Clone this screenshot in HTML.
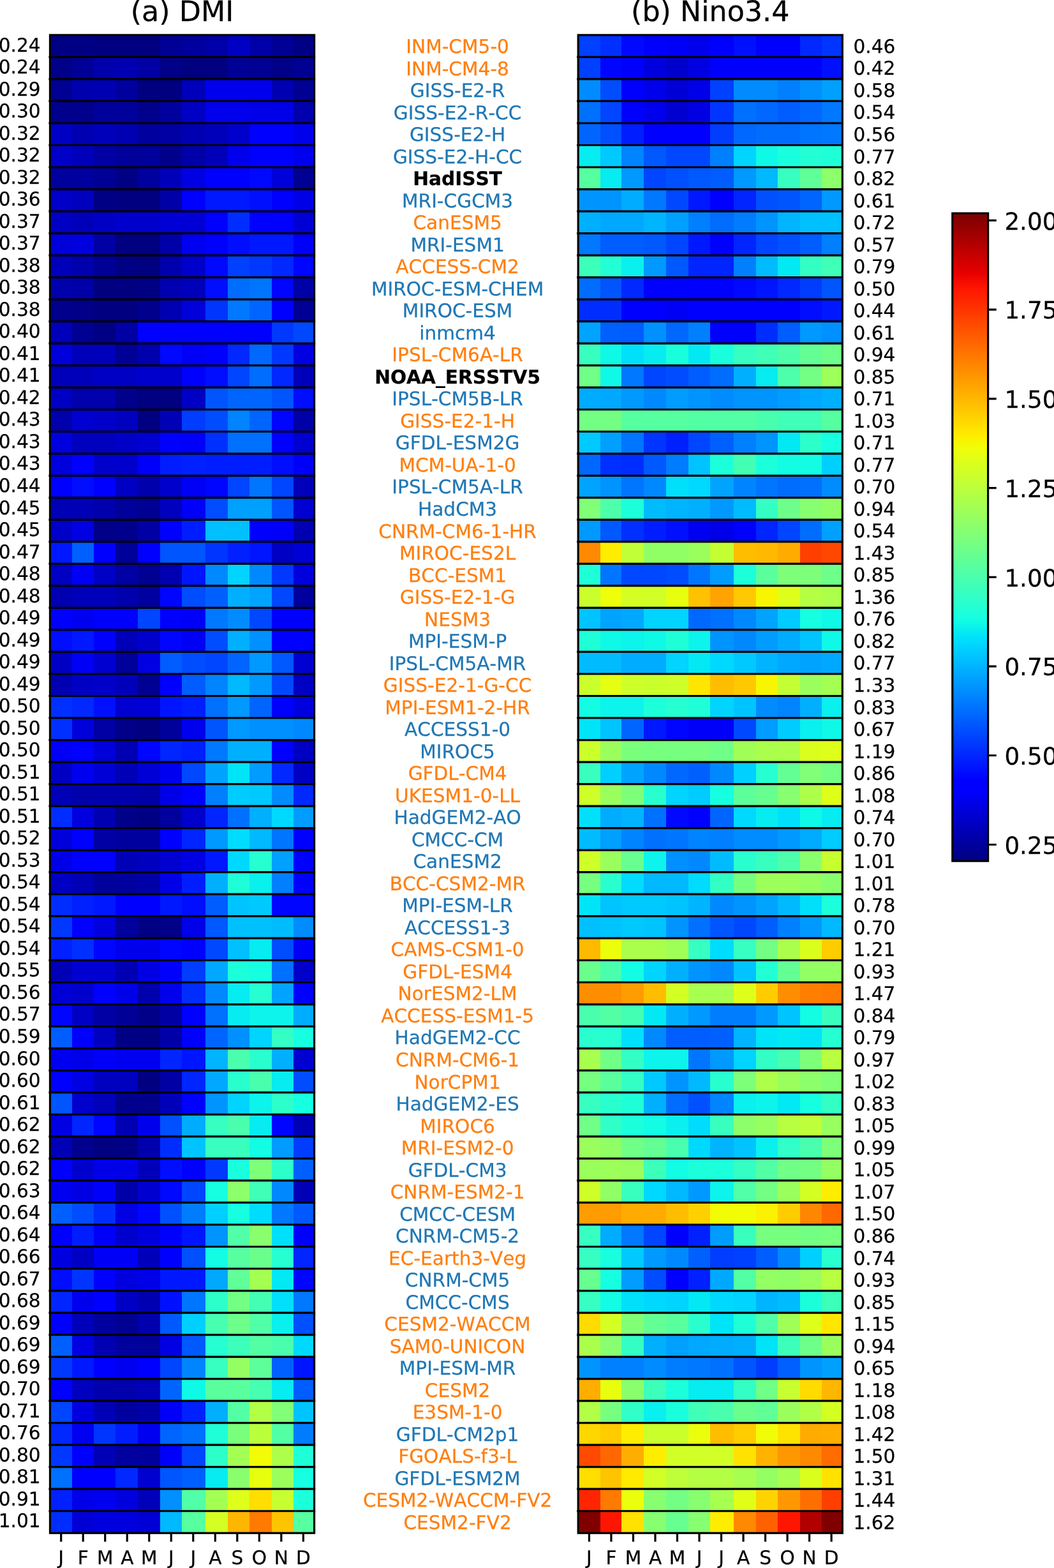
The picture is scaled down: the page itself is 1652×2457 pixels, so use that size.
<!DOCTYPE html>
<html lang="en"><head><meta charset="utf-8"><title>Seasonal standard deviation of DMI and Nino3.4</title>
<style>
html,body{margin:0;padding:0;background:#fff;}
body{width:1652px;height:2457px;overflow:hidden;}
svg{display:block;}
text{font-family:"DejaVu Sans","Liberation Sans",sans-serif;fill:#000;stroke:#000;stroke-width:0.25px;text-rendering:geometricPrecision;font-kerning:none;}
.t{font-size:29.6px;}
.l{text-anchor:end;}.r{text-anchor:start;}.m{text-anchor:middle;}
.o{fill:#ff7f0e;stroke:#ff7f0e;}.b{fill:#1f77b4;stroke:#1f77b4;}.k{fill:#000;font-weight:bold;}
.ti{font-size:44.4px;text-anchor:middle;}
.cb{font-size:37.3px;}
.ln{stroke:#000;stroke-width:3.2;fill:none;}
.sp{stroke:#000;stroke-width:3.2;fill:none;stroke-linejoin:miter;}
</style></head><body>
<svg width="1652" height="2457" viewBox="0 0 1652 2457" role="img" aria-label="Heatmaps of monthly standard deviation of DMI and Nino3.4 for 68 models and observations">
<rect width="1652" height="2457" fill="#fff"/>
<defs><linearGradient id="jet" x1="0" y1="1" x2="0" y2="0">
<stop offset="0.0000" stop-color="#000080"/>
<stop offset="0.0078" stop-color="#000089"/>
<stop offset="0.0156" stop-color="#000092"/>
<stop offset="0.0234" stop-color="#00009b"/>
<stop offset="0.0312" stop-color="#0000a4"/>
<stop offset="0.0391" stop-color="#0000ad"/>
<stop offset="0.0469" stop-color="#0000b6"/>
<stop offset="0.0547" stop-color="#0000bf"/>
<stop offset="0.0625" stop-color="#0000c8"/>
<stop offset="0.0703" stop-color="#0000d1"/>
<stop offset="0.0781" stop-color="#0000da"/>
<stop offset="0.0859" stop-color="#0000e3"/>
<stop offset="0.0938" stop-color="#0000ed"/>
<stop offset="0.1016" stop-color="#0000f6"/>
<stop offset="0.1094" stop-color="#0000ff"/>
<stop offset="0.1172" stop-color="#0000ff"/>
<stop offset="0.1250" stop-color="#0000ff"/>
<stop offset="0.1328" stop-color="#0008ff"/>
<stop offset="0.1406" stop-color="#0010ff"/>
<stop offset="0.1484" stop-color="#0018ff"/>
<stop offset="0.1562" stop-color="#0020ff"/>
<stop offset="0.1641" stop-color="#0028ff"/>
<stop offset="0.1719" stop-color="#0030ff"/>
<stop offset="0.1797" stop-color="#0038ff"/>
<stop offset="0.1875" stop-color="#0040ff"/>
<stop offset="0.1953" stop-color="#0048ff"/>
<stop offset="0.2031" stop-color="#0050ff"/>
<stop offset="0.2109" stop-color="#0058ff"/>
<stop offset="0.2188" stop-color="#0060ff"/>
<stop offset="0.2266" stop-color="#0068ff"/>
<stop offset="0.2344" stop-color="#0070ff"/>
<stop offset="0.2422" stop-color="#0078ff"/>
<stop offset="0.2500" stop-color="#0080ff"/>
<stop offset="0.2578" stop-color="#0089ff"/>
<stop offset="0.2656" stop-color="#0090ff"/>
<stop offset="0.2734" stop-color="#0099ff"/>
<stop offset="0.2812" stop-color="#00a0ff"/>
<stop offset="0.2891" stop-color="#00a9ff"/>
<stop offset="0.2969" stop-color="#00b0ff"/>
<stop offset="0.3047" stop-color="#00b9ff"/>
<stop offset="0.3125" stop-color="#00c0ff"/>
<stop offset="0.3203" stop-color="#00c9ff"/>
<stop offset="0.3281" stop-color="#00d0ff"/>
<stop offset="0.3359" stop-color="#00d9ff"/>
<stop offset="0.3438" stop-color="#00e0fb"/>
<stop offset="0.3516" stop-color="#02e9f4"/>
<stop offset="0.3594" stop-color="#09f0ee"/>
<stop offset="0.3672" stop-color="#0ff9e7"/>
<stop offset="0.3750" stop-color="#16ffe1"/>
<stop offset="0.3828" stop-color="#1cffdb"/>
<stop offset="0.3906" stop-color="#23ffd4"/>
<stop offset="0.3984" stop-color="#29ffce"/>
<stop offset="0.4062" stop-color="#30ffc7"/>
<stop offset="0.4141" stop-color="#36ffc1"/>
<stop offset="0.4219" stop-color="#3cffba"/>
<stop offset="0.4297" stop-color="#43ffb4"/>
<stop offset="0.4375" stop-color="#49ffad"/>
<stop offset="0.4453" stop-color="#50ffa7"/>
<stop offset="0.4531" stop-color="#56ffa0"/>
<stop offset="0.4609" stop-color="#5dff9a"/>
<stop offset="0.4688" stop-color="#63ff94"/>
<stop offset="0.4766" stop-color="#6aff8d"/>
<stop offset="0.4844" stop-color="#70ff87"/>
<stop offset="0.4922" stop-color="#77ff80"/>
<stop offset="0.5000" stop-color="#7dff7a"/>
<stop offset="0.5078" stop-color="#83ff73"/>
<stop offset="0.5156" stop-color="#8aff6d"/>
<stop offset="0.5234" stop-color="#90ff66"/>
<stop offset="0.5312" stop-color="#97ff60"/>
<stop offset="0.5391" stop-color="#9dff5a"/>
<stop offset="0.5469" stop-color="#a4ff53"/>
<stop offset="0.5547" stop-color="#aaff4d"/>
<stop offset="0.5625" stop-color="#b1ff46"/>
<stop offset="0.5703" stop-color="#b7ff40"/>
<stop offset="0.5781" stop-color="#beff39"/>
<stop offset="0.5859" stop-color="#c4ff33"/>
<stop offset="0.5938" stop-color="#caff2c"/>
<stop offset="0.6016" stop-color="#d1ff26"/>
<stop offset="0.6094" stop-color="#d7ff1f"/>
<stop offset="0.6172" stop-color="#deff19"/>
<stop offset="0.6250" stop-color="#e4ff13"/>
<stop offset="0.6328" stop-color="#ebff0c"/>
<stop offset="0.6406" stop-color="#f1fc06"/>
<stop offset="0.6484" stop-color="#f8f500"/>
<stop offset="0.6562" stop-color="#feed00"/>
<stop offset="0.6641" stop-color="#ffe600"/>
<stop offset="0.6719" stop-color="#ffde00"/>
<stop offset="0.6797" stop-color="#ffd700"/>
<stop offset="0.6875" stop-color="#ffd000"/>
<stop offset="0.6953" stop-color="#ffc800"/>
<stop offset="0.7031" stop-color="#ffc100"/>
<stop offset="0.7109" stop-color="#ffb900"/>
<stop offset="0.7188" stop-color="#ffb200"/>
<stop offset="0.7266" stop-color="#ffab00"/>
<stop offset="0.7344" stop-color="#ffa300"/>
<stop offset="0.7422" stop-color="#ff9c00"/>
<stop offset="0.7500" stop-color="#ff9400"/>
<stop offset="0.7578" stop-color="#ff8d00"/>
<stop offset="0.7656" stop-color="#ff8600"/>
<stop offset="0.7734" stop-color="#ff7e00"/>
<stop offset="0.7812" stop-color="#ff7700"/>
<stop offset="0.7891" stop-color="#ff6f00"/>
<stop offset="0.7969" stop-color="#ff6800"/>
<stop offset="0.8047" stop-color="#ff6000"/>
<stop offset="0.8125" stop-color="#ff5900"/>
<stop offset="0.8203" stop-color="#ff5200"/>
<stop offset="0.8281" stop-color="#ff4a00"/>
<stop offset="0.8359" stop-color="#ff4300"/>
<stop offset="0.8438" stop-color="#ff3b00"/>
<stop offset="0.8516" stop-color="#ff3400"/>
<stop offset="0.8594" stop-color="#ff2d00"/>
<stop offset="0.8672" stop-color="#ff2500"/>
<stop offset="0.8750" stop-color="#ff1e00"/>
<stop offset="0.8828" stop-color="#ff1600"/>
<stop offset="0.8906" stop-color="#fa0f00"/>
<stop offset="0.8984" stop-color="#f10800"/>
<stop offset="0.9062" stop-color="#e80000"/>
<stop offset="0.9141" stop-color="#df0000"/>
<stop offset="0.9219" stop-color="#d60000"/>
<stop offset="0.9297" stop-color="#cd0000"/>
<stop offset="0.9375" stop-color="#c40000"/>
<stop offset="0.9453" stop-color="#bb0000"/>
<stop offset="0.9531" stop-color="#b10000"/>
<stop offset="0.9609" stop-color="#a80000"/>
<stop offset="0.9688" stop-color="#9f0000"/>
<stop offset="0.9766" stop-color="#960000"/>
<stop offset="0.9844" stop-color="#8d0000"/>
<stop offset="0.9922" stop-color="#840000"/>
<stop offset="1.0000" stop-color="#800000"/>
</linearGradient></defs>
<g shape-rendering="crispEdges">
<rect x="78.45" y="54.9" width="35.09" height="35.12" fill="#000084"/>
<rect x="112.94" y="54.9" width="34.16" height="35.12" fill="#000084"/>
<rect x="146.5" y="54.9" width="34.95" height="35.12" fill="#000080"/>
<rect x="180.85" y="54.9" width="35.65" height="35.12" fill="#000080"/>
<rect x="215.9" y="54.9" width="35.7" height="35.12" fill="#000080"/>
<rect x="251" y="54.9" width="34.55" height="35.12" fill="#000096"/>
<rect x="284.95" y="54.9" width="37.6" height="35.12" fill="#00009f"/>
<rect x="321.95" y="54.9" width="35.55" height="35.12" fill="#0000a8"/>
<rect x="356.9" y="54.9" width="34.55" height="35.12" fill="#0000c4"/>
<rect x="390.85" y="54.9" width="35.65" height="35.12" fill="#0000a8"/>
<rect x="425.9" y="54.9" width="34.7" height="35.12" fill="#000096"/>
<rect x="460" y="54.9" width="32.63" height="35.12" fill="#000084"/>
<rect x="78.45" y="89.42" width="35.09" height="35.12" fill="#000089"/>
<rect x="112.94" y="89.42" width="34.16" height="35.12" fill="#000096"/>
<rect x="146.5" y="89.42" width="34.95" height="35.12" fill="#0000ad"/>
<rect x="180.85" y="89.42" width="35.65" height="35.12" fill="#0000b2"/>
<rect x="215.9" y="89.42" width="35.7" height="35.12" fill="#0000a4"/>
<rect x="251" y="89.42" width="34.55" height="35.12" fill="#000089"/>
<rect x="284.95" y="89.42" width="37.6" height="35.12" fill="#000080"/>
<rect x="321.95" y="89.42" width="35.55" height="35.12" fill="#000080"/>
<rect x="356.9" y="89.42" width="34.55" height="35.12" fill="#000096"/>
<rect x="390.85" y="89.42" width="35.65" height="35.12" fill="#000092"/>
<rect x="425.9" y="89.42" width="34.7" height="35.12" fill="#000089"/>
<rect x="460" y="89.42" width="32.63" height="35.12" fill="#000092"/>
<rect x="78.45" y="123.94" width="35.09" height="35.12" fill="#000092"/>
<rect x="112.94" y="123.94" width="34.16" height="35.12" fill="#0000ad"/>
<rect x="146.5" y="123.94" width="34.95" height="35.12" fill="#0000b2"/>
<rect x="180.85" y="123.94" width="35.65" height="35.12" fill="#00009f"/>
<rect x="215.9" y="123.94" width="35.7" height="35.12" fill="#000080"/>
<rect x="251" y="123.94" width="34.55" height="35.12" fill="#000080"/>
<rect x="284.95" y="123.94" width="37.6" height="35.12" fill="#0000bb"/>
<rect x="321.95" y="123.94" width="35.55" height="35.12" fill="#0000ed"/>
<rect x="356.9" y="123.94" width="34.55" height="35.12" fill="#0000ed"/>
<rect x="390.85" y="123.94" width="35.65" height="35.12" fill="#0000ed"/>
<rect x="425.9" y="123.94" width="34.7" height="35.12" fill="#0000b2"/>
<rect x="460" y="123.94" width="32.63" height="35.12" fill="#000092"/>
<rect x="78.45" y="158.46" width="35.09" height="35.12" fill="#00008d"/>
<rect x="112.94" y="158.46" width="34.16" height="35.12" fill="#00008d"/>
<rect x="146.5" y="158.46" width="34.95" height="35.12" fill="#00009b"/>
<rect x="180.85" y="158.46" width="35.65" height="35.12" fill="#00009b"/>
<rect x="215.9" y="158.46" width="35.7" height="35.12" fill="#00008d"/>
<rect x="251" y="158.46" width="34.55" height="35.12" fill="#00009f"/>
<rect x="284.95" y="158.46" width="37.6" height="35.12" fill="#0000c4"/>
<rect x="321.95" y="158.46" width="35.55" height="35.12" fill="#0000ed"/>
<rect x="356.9" y="158.46" width="34.55" height="35.12" fill="#0000ed"/>
<rect x="390.85" y="158.46" width="35.65" height="35.12" fill="#0000e8"/>
<rect x="425.9" y="158.46" width="34.7" height="35.12" fill="#0000e8"/>
<rect x="460" y="158.46" width="32.63" height="35.12" fill="#0000ad"/>
<rect x="78.45" y="192.98" width="35.09" height="35.12" fill="#0000c4"/>
<rect x="112.94" y="192.98" width="34.16" height="35.12" fill="#0000b2"/>
<rect x="146.5" y="192.98" width="34.95" height="35.12" fill="#0000bb"/>
<rect x="180.85" y="192.98" width="35.65" height="35.12" fill="#0000b2"/>
<rect x="215.9" y="192.98" width="35.7" height="35.12" fill="#00009f"/>
<rect x="251" y="192.98" width="34.55" height="35.12" fill="#0000a4"/>
<rect x="284.95" y="192.98" width="37.6" height="35.12" fill="#0000b2"/>
<rect x="321.95" y="192.98" width="35.55" height="35.12" fill="#0000bb"/>
<rect x="356.9" y="192.98" width="34.55" height="35.12" fill="#0000cd"/>
<rect x="390.85" y="192.98" width="35.65" height="35.12" fill="#0000ff"/>
<rect x="425.9" y="192.98" width="34.7" height="35.12" fill="#0000ff"/>
<rect x="460" y="192.98" width="32.63" height="35.12" fill="#0000ed"/>
<rect x="78.45" y="227.5" width="35.09" height="35.12" fill="#0000c8"/>
<rect x="112.94" y="227.5" width="34.16" height="35.12" fill="#0000bb"/>
<rect x="146.5" y="227.5" width="34.95" height="35.12" fill="#0000a4"/>
<rect x="180.85" y="227.5" width="35.65" height="35.12" fill="#00009b"/>
<rect x="215.9" y="227.5" width="35.7" height="35.12" fill="#00009b"/>
<rect x="251" y="227.5" width="34.55" height="35.12" fill="#00008d"/>
<rect x="284.95" y="227.5" width="37.6" height="35.12" fill="#0000a8"/>
<rect x="321.95" y="227.5" width="35.55" height="35.12" fill="#0000bb"/>
<rect x="356.9" y="227.5" width="34.55" height="35.12" fill="#0000ed"/>
<rect x="390.85" y="227.5" width="35.65" height="35.12" fill="#0000ff"/>
<rect x="425.9" y="227.5" width="34.7" height="35.12" fill="#0000ff"/>
<rect x="460" y="227.5" width="32.63" height="35.12" fill="#0000ed"/>
<rect x="78.45" y="262.02" width="35.09" height="35.12" fill="#00009f"/>
<rect x="112.94" y="262.02" width="34.16" height="35.12" fill="#00009f"/>
<rect x="146.5" y="262.02" width="34.95" height="35.12" fill="#000096"/>
<rect x="180.85" y="262.02" width="35.65" height="35.12" fill="#000084"/>
<rect x="215.9" y="262.02" width="35.7" height="35.12" fill="#00009f"/>
<rect x="251" y="262.02" width="34.55" height="35.12" fill="#0000bb"/>
<rect x="284.95" y="262.02" width="37.6" height="35.12" fill="#0000e3"/>
<rect x="321.95" y="262.02" width="35.55" height="35.12" fill="#0000ff"/>
<rect x="356.9" y="262.02" width="34.55" height="35.12" fill="#0000ff"/>
<rect x="390.85" y="262.02" width="35.65" height="35.12" fill="#0008ff"/>
<rect x="425.9" y="262.02" width="34.7" height="35.12" fill="#0000da"/>
<rect x="460" y="262.02" width="32.63" height="35.12" fill="#000092"/>
<rect x="78.45" y="296.54" width="35.09" height="35.12" fill="#0000c8"/>
<rect x="112.94" y="296.54" width="34.16" height="35.12" fill="#0000bf"/>
<rect x="146.5" y="296.54" width="34.95" height="35.12" fill="#000084"/>
<rect x="180.85" y="296.54" width="35.65" height="35.12" fill="#000080"/>
<rect x="215.9" y="296.54" width="35.7" height="35.12" fill="#000080"/>
<rect x="251" y="296.54" width="34.55" height="35.12" fill="#0000a8"/>
<rect x="284.95" y="296.54" width="37.6" height="35.12" fill="#0000ff"/>
<rect x="321.95" y="296.54" width="35.55" height="35.12" fill="#0018ff"/>
<rect x="356.9" y="296.54" width="34.55" height="35.12" fill="#0018ff"/>
<rect x="390.85" y="296.54" width="35.65" height="35.12" fill="#0010ff"/>
<rect x="425.9" y="296.54" width="34.7" height="35.12" fill="#0000ff"/>
<rect x="460" y="296.54" width="32.63" height="35.12" fill="#0000e8"/>
<rect x="78.45" y="331.06" width="35.09" height="35.12" fill="#0000c4"/>
<rect x="112.94" y="331.06" width="34.16" height="35.12" fill="#0000bb"/>
<rect x="146.5" y="331.06" width="34.95" height="35.12" fill="#0000c4"/>
<rect x="180.85" y="331.06" width="35.65" height="35.12" fill="#0000cd"/>
<rect x="215.9" y="331.06" width="35.7" height="35.12" fill="#0000cd"/>
<rect x="251" y="331.06" width="34.55" height="35.12" fill="#0000d6"/>
<rect x="284.95" y="331.06" width="37.6" height="35.12" fill="#0000d6"/>
<rect x="321.95" y="331.06" width="35.55" height="35.12" fill="#0000ff"/>
<rect x="356.9" y="331.06" width="34.55" height="35.12" fill="#002dff"/>
<rect x="390.85" y="331.06" width="35.65" height="35.12" fill="#0000ff"/>
<rect x="425.9" y="331.06" width="34.7" height="35.12" fill="#0000ff"/>
<rect x="460" y="331.06" width="32.63" height="35.12" fill="#0000d6"/>
<rect x="78.45" y="365.58" width="35.09" height="35.12" fill="#0000da"/>
<rect x="112.94" y="365.58" width="34.16" height="35.12" fill="#0000df"/>
<rect x="146.5" y="365.58" width="34.95" height="35.12" fill="#0000a4"/>
<rect x="180.85" y="365.58" width="35.65" height="35.12" fill="#000080"/>
<rect x="215.9" y="365.58" width="35.7" height="35.12" fill="#000080"/>
<rect x="251" y="365.58" width="34.55" height="35.12" fill="#0000a8"/>
<rect x="284.95" y="365.58" width="37.6" height="35.12" fill="#0000f1"/>
<rect x="321.95" y="365.58" width="35.55" height="35.12" fill="#0000ff"/>
<rect x="356.9" y="365.58" width="34.55" height="35.12" fill="#000dff"/>
<rect x="390.85" y="365.58" width="35.65" height="35.12" fill="#0018ff"/>
<rect x="425.9" y="365.58" width="34.7" height="35.12" fill="#0018ff"/>
<rect x="460" y="365.58" width="32.63" height="35.12" fill="#0000fa"/>
<rect x="78.45" y="400.1" width="35.09" height="35.12" fill="#0000bb"/>
<rect x="112.94" y="400.1" width="34.16" height="35.12" fill="#0000ad"/>
<rect x="146.5" y="400.1" width="34.95" height="35.12" fill="#000096"/>
<rect x="180.85" y="400.1" width="35.65" height="35.12" fill="#000084"/>
<rect x="215.9" y="400.1" width="35.7" height="35.12" fill="#000080"/>
<rect x="251" y="400.1" width="34.55" height="35.12" fill="#0000ad"/>
<rect x="284.95" y="400.1" width="37.6" height="35.12" fill="#0000cd"/>
<rect x="321.95" y="400.1" width="35.55" height="35.12" fill="#0008ff"/>
<rect x="356.9" y="400.1" width="34.55" height="35.12" fill="#0040ff"/>
<rect x="390.85" y="400.1" width="35.65" height="35.12" fill="#0038ff"/>
<rect x="425.9" y="400.1" width="34.7" height="35.12" fill="#0028ff"/>
<rect x="460" y="400.1" width="32.63" height="35.12" fill="#0005ff"/>
<rect x="78.45" y="434.62" width="35.09" height="35.12" fill="#0000ad"/>
<rect x="112.94" y="434.62" width="34.16" height="35.12" fill="#0000a8"/>
<rect x="146.5" y="434.62" width="34.95" height="35.12" fill="#000080"/>
<rect x="180.85" y="434.62" width="35.65" height="35.12" fill="#000080"/>
<rect x="215.9" y="434.62" width="35.7" height="35.12" fill="#000084"/>
<rect x="251" y="434.62" width="34.55" height="35.12" fill="#0000b2"/>
<rect x="284.95" y="434.62" width="37.6" height="35.12" fill="#0000bb"/>
<rect x="321.95" y="434.62" width="35.55" height="35.12" fill="#000dff"/>
<rect x="356.9" y="434.62" width="34.55" height="35.12" fill="#006dff"/>
<rect x="390.85" y="434.62" width="35.65" height="35.12" fill="#0075ff"/>
<rect x="425.9" y="434.62" width="34.7" height="35.12" fill="#0005ff"/>
<rect x="460" y="434.62" width="32.63" height="35.12" fill="#0000a8"/>
<rect x="78.45" y="469.14" width="35.09" height="35.12" fill="#00008d"/>
<rect x="112.94" y="469.14" width="34.16" height="35.12" fill="#000089"/>
<rect x="146.5" y="469.14" width="34.95" height="35.12" fill="#000080"/>
<rect x="180.85" y="469.14" width="35.65" height="35.12" fill="#000080"/>
<rect x="215.9" y="469.14" width="35.7" height="35.12" fill="#00008d"/>
<rect x="251" y="469.14" width="34.55" height="35.12" fill="#0000b2"/>
<rect x="284.95" y="469.14" width="37.6" height="35.12" fill="#0000da"/>
<rect x="321.95" y="469.14" width="35.55" height="35.12" fill="#0035ff"/>
<rect x="356.9" y="469.14" width="34.55" height="35.12" fill="#0078ff"/>
<rect x="390.85" y="469.14" width="35.65" height="35.12" fill="#0065ff"/>
<rect x="425.9" y="469.14" width="34.7" height="35.12" fill="#0000ff"/>
<rect x="460" y="469.14" width="32.63" height="35.12" fill="#000096"/>
<rect x="78.45" y="503.66" width="35.09" height="35.12" fill="#0000bb"/>
<rect x="112.94" y="503.66" width="34.16" height="35.12" fill="#000092"/>
<rect x="146.5" y="503.66" width="34.95" height="35.12" fill="#000084"/>
<rect x="180.85" y="503.66" width="35.65" height="35.12" fill="#0000a4"/>
<rect x="215.9" y="503.66" width="35.7" height="35.12" fill="#0000ff"/>
<rect x="251" y="503.66" width="34.55" height="35.12" fill="#0000ff"/>
<rect x="284.95" y="503.66" width="37.6" height="35.12" fill="#0000ff"/>
<rect x="321.95" y="503.66" width="35.55" height="35.12" fill="#0000ff"/>
<rect x="356.9" y="503.66" width="34.55" height="35.12" fill="#0000ff"/>
<rect x="390.85" y="503.66" width="35.65" height="35.12" fill="#0000ff"/>
<rect x="425.9" y="503.66" width="34.7" height="35.12" fill="#0038ff"/>
<rect x="460" y="503.66" width="32.63" height="35.12" fill="#0048ff"/>
<rect x="78.45" y="538.18" width="35.09" height="35.12" fill="#0000da"/>
<rect x="112.94" y="538.18" width="34.16" height="35.12" fill="#0000bb"/>
<rect x="146.5" y="538.18" width="34.95" height="35.12" fill="#0000bb"/>
<rect x="180.85" y="538.18" width="35.65" height="35.12" fill="#000096"/>
<rect x="215.9" y="538.18" width="35.7" height="35.12" fill="#0000ad"/>
<rect x="251" y="538.18" width="34.55" height="35.12" fill="#0008ff"/>
<rect x="284.95" y="538.18" width="37.6" height="35.12" fill="#0000f6"/>
<rect x="321.95" y="538.18" width="35.55" height="35.12" fill="#0000ff"/>
<rect x="356.9" y="538.18" width="34.55" height="35.12" fill="#0028ff"/>
<rect x="390.85" y="538.18" width="35.65" height="35.12" fill="#0068ff"/>
<rect x="425.9" y="538.18" width="34.7" height="35.12" fill="#0038ff"/>
<rect x="460" y="538.18" width="32.63" height="35.12" fill="#0000e3"/>
<rect x="78.45" y="572.7" width="35.09" height="35.12" fill="#0000bb"/>
<rect x="112.94" y="572.7" width="34.16" height="35.12" fill="#0000bb"/>
<rect x="146.5" y="572.7" width="34.95" height="35.12" fill="#0000c4"/>
<rect x="180.85" y="572.7" width="35.65" height="35.12" fill="#0000c4"/>
<rect x="215.9" y="572.7" width="35.7" height="35.12" fill="#0000cd"/>
<rect x="251" y="572.7" width="34.55" height="35.12" fill="#0000cd"/>
<rect x="284.95" y="572.7" width="37.6" height="35.12" fill="#0000ff"/>
<rect x="321.95" y="572.7" width="35.55" height="35.12" fill="#000dff"/>
<rect x="356.9" y="572.7" width="34.55" height="35.12" fill="#0045ff"/>
<rect x="390.85" y="572.7" width="35.65" height="35.12" fill="#006dff"/>
<rect x="425.9" y="572.7" width="34.7" height="35.12" fill="#0028ff"/>
<rect x="460" y="572.7" width="32.63" height="35.12" fill="#0000bb"/>
<rect x="78.45" y="607.22" width="35.09" height="35.12" fill="#0000c4"/>
<rect x="112.94" y="607.22" width="34.16" height="35.12" fill="#0000ad"/>
<rect x="146.5" y="607.22" width="34.95" height="35.12" fill="#0000ad"/>
<rect x="180.85" y="607.22" width="35.65" height="35.12" fill="#00008d"/>
<rect x="215.9" y="607.22" width="35.7" height="35.12" fill="#000080"/>
<rect x="251" y="607.22" width="34.55" height="35.12" fill="#000080"/>
<rect x="284.95" y="607.22" width="37.6" height="35.12" fill="#0000c4"/>
<rect x="321.95" y="607.22" width="35.55" height="35.12" fill="#0055ff"/>
<rect x="356.9" y="607.22" width="34.55" height="35.12" fill="#0065ff"/>
<rect x="390.85" y="607.22" width="35.65" height="35.12" fill="#0065ff"/>
<rect x="425.9" y="607.22" width="34.7" height="35.12" fill="#0055ff"/>
<rect x="460" y="607.22" width="32.63" height="35.12" fill="#000dff"/>
<rect x="78.45" y="641.74" width="35.09" height="35.12" fill="#0000ad"/>
<rect x="112.94" y="641.74" width="34.16" height="35.12" fill="#0000d1"/>
<rect x="146.5" y="641.74" width="34.95" height="35.12" fill="#0000c8"/>
<rect x="180.85" y="641.74" width="35.65" height="35.12" fill="#0000bf"/>
<rect x="215.9" y="641.74" width="35.7" height="35.12" fill="#000080"/>
<rect x="251" y="641.74" width="34.55" height="35.12" fill="#0000b6"/>
<rect x="284.95" y="641.74" width="37.6" height="35.12" fill="#003dff"/>
<rect x="321.95" y="641.74" width="35.55" height="35.12" fill="#004dff"/>
<rect x="356.9" y="641.74" width="34.55" height="35.12" fill="#0084ff"/>
<rect x="390.85" y="641.74" width="35.65" height="35.12" fill="#0065ff"/>
<rect x="425.9" y="641.74" width="34.7" height="35.12" fill="#0005ff"/>
<rect x="460" y="641.74" width="32.63" height="35.12" fill="#0000a8"/>
<rect x="78.45" y="676.26" width="35.09" height="35.12" fill="#0000df"/>
<rect x="112.94" y="676.26" width="34.16" height="35.12" fill="#0000bf"/>
<rect x="146.5" y="676.26" width="34.95" height="35.12" fill="#0000bf"/>
<rect x="180.85" y="676.26" width="35.65" height="35.12" fill="#0000c8"/>
<rect x="215.9" y="676.26" width="35.7" height="35.12" fill="#0000d1"/>
<rect x="251" y="676.26" width="34.55" height="35.12" fill="#0000ff"/>
<rect x="284.95" y="676.26" width="37.6" height="35.12" fill="#0000fa"/>
<rect x="321.95" y="676.26" width="35.55" height="35.12" fill="#0030ff"/>
<rect x="356.9" y="676.26" width="34.55" height="35.12" fill="#0070ff"/>
<rect x="390.85" y="676.26" width="35.65" height="35.12" fill="#0070ff"/>
<rect x="425.9" y="676.26" width="34.7" height="35.12" fill="#0000ff"/>
<rect x="460" y="676.26" width="32.63" height="35.12" fill="#0000d1"/>
<rect x="78.45" y="710.78" width="35.09" height="35.12" fill="#0000df"/>
<rect x="112.94" y="710.78" width="34.16" height="35.12" fill="#0000ff"/>
<rect x="146.5" y="710.78" width="34.95" height="35.12" fill="#0000cd"/>
<rect x="180.85" y="710.78" width="35.65" height="35.12" fill="#0000cd"/>
<rect x="215.9" y="710.78" width="35.7" height="35.12" fill="#0000fa"/>
<rect x="251" y="710.78" width="34.55" height="35.12" fill="#001dff"/>
<rect x="284.95" y="710.78" width="37.6" height="35.12" fill="#0020ff"/>
<rect x="321.95" y="710.78" width="35.55" height="35.12" fill="#001dff"/>
<rect x="356.9" y="710.78" width="34.55" height="35.12" fill="#001dff"/>
<rect x="390.85" y="710.78" width="35.65" height="35.12" fill="#001dff"/>
<rect x="425.9" y="710.78" width="34.7" height="35.12" fill="#000dff"/>
<rect x="460" y="710.78" width="32.63" height="35.12" fill="#0000fa"/>
<rect x="78.45" y="745.3" width="35.09" height="35.12" fill="#0000ff"/>
<rect x="112.94" y="745.3" width="34.16" height="35.12" fill="#000dff"/>
<rect x="146.5" y="745.3" width="34.95" height="35.12" fill="#0000ff"/>
<rect x="180.85" y="745.3" width="35.65" height="35.12" fill="#0000c4"/>
<rect x="215.9" y="745.3" width="35.7" height="35.12" fill="#0000ad"/>
<rect x="251" y="745.3" width="34.55" height="35.12" fill="#0000cd"/>
<rect x="284.95" y="745.3" width="37.6" height="35.12" fill="#0000f6"/>
<rect x="321.95" y="745.3" width="35.55" height="35.12" fill="#0005ff"/>
<rect x="356.9" y="745.3" width="34.55" height="35.12" fill="#0045ff"/>
<rect x="390.85" y="745.3" width="35.65" height="35.12" fill="#0075ff"/>
<rect x="425.9" y="745.3" width="34.7" height="35.12" fill="#0045ff"/>
<rect x="460" y="745.3" width="32.63" height="35.12" fill="#0000bb"/>
<rect x="78.45" y="779.82" width="35.09" height="35.12" fill="#0000b6"/>
<rect x="112.94" y="779.82" width="34.16" height="35.12" fill="#0000b6"/>
<rect x="146.5" y="779.82" width="34.95" height="35.12" fill="#0000ad"/>
<rect x="180.85" y="779.82" width="35.65" height="35.12" fill="#00009b"/>
<rect x="215.9" y="779.82" width="35.7" height="35.12" fill="#000092"/>
<rect x="251" y="779.82" width="34.55" height="35.12" fill="#0000bf"/>
<rect x="284.95" y="779.82" width="37.6" height="35.12" fill="#0000fa"/>
<rect x="321.95" y="779.82" width="35.55" height="35.12" fill="#004dff"/>
<rect x="356.9" y="779.82" width="34.55" height="35.12" fill="#00a0ff"/>
<rect x="390.85" y="779.82" width="35.65" height="35.12" fill="#00a0ff"/>
<rect x="425.9" y="779.82" width="34.7" height="35.12" fill="#0055ff"/>
<rect x="460" y="779.82" width="32.63" height="35.12" fill="#0000d1"/>
<rect x="78.45" y="814.34" width="35.09" height="35.12" fill="#0000c8"/>
<rect x="112.94" y="814.34" width="34.16" height="35.12" fill="#0000e3"/>
<rect x="146.5" y="814.34" width="34.95" height="35.12" fill="#000089"/>
<rect x="180.85" y="814.34" width="35.65" height="35.12" fill="#00008d"/>
<rect x="215.9" y="814.34" width="35.7" height="35.12" fill="#0000a4"/>
<rect x="251" y="814.34" width="34.55" height="35.12" fill="#0000ff"/>
<rect x="284.95" y="814.34" width="37.6" height="35.12" fill="#001dff"/>
<rect x="321.95" y="814.34" width="35.55" height="35.12" fill="#00c0ff"/>
<rect x="356.9" y="814.34" width="34.55" height="35.12" fill="#00c0ff"/>
<rect x="390.85" y="814.34" width="35.65" height="35.12" fill="#0000ff"/>
<rect x="425.9" y="814.34" width="34.7" height="35.12" fill="#0000fa"/>
<rect x="460" y="814.34" width="32.63" height="35.12" fill="#0000b2"/>
<rect x="78.45" y="848.86" width="35.09" height="35.12" fill="#0018ff"/>
<rect x="112.94" y="848.86" width="34.16" height="35.12" fill="#0060ff"/>
<rect x="146.5" y="848.86" width="34.95" height="35.12" fill="#0000ff"/>
<rect x="180.85" y="848.86" width="35.65" height="35.12" fill="#00009b"/>
<rect x="215.9" y="848.86" width="35.7" height="35.12" fill="#0000ff"/>
<rect x="251" y="848.86" width="34.55" height="35.12" fill="#0055ff"/>
<rect x="284.95" y="848.86" width="37.6" height="35.12" fill="#0055ff"/>
<rect x="321.95" y="848.86" width="35.55" height="35.12" fill="#0035ff"/>
<rect x="356.9" y="848.86" width="34.55" height="35.12" fill="#0020ff"/>
<rect x="390.85" y="848.86" width="35.65" height="35.12" fill="#0015ff"/>
<rect x="425.9" y="848.86" width="34.7" height="35.12" fill="#0000c4"/>
<rect x="460" y="848.86" width="32.63" height="35.12" fill="#0000d6"/>
<rect x="78.45" y="883.38" width="35.09" height="35.12" fill="#0000c4"/>
<rect x="112.94" y="883.38" width="34.16" height="35.12" fill="#0000f6"/>
<rect x="146.5" y="883.38" width="34.95" height="35.12" fill="#0000c4"/>
<rect x="180.85" y="883.38" width="35.65" height="35.12" fill="#0000a4"/>
<rect x="215.9" y="883.38" width="35.7" height="35.12" fill="#000092"/>
<rect x="251" y="883.38" width="34.55" height="35.12" fill="#0000b2"/>
<rect x="284.95" y="883.38" width="37.6" height="35.12" fill="#0015ff"/>
<rect x="321.95" y="883.38" width="35.55" height="35.12" fill="#0089ff"/>
<rect x="356.9" y="883.38" width="34.55" height="35.12" fill="#00d4ff"/>
<rect x="390.85" y="883.38" width="35.65" height="35.12" fill="#0089ff"/>
<rect x="425.9" y="883.38" width="34.7" height="35.12" fill="#0038ff"/>
<rect x="460" y="883.38" width="32.63" height="35.12" fill="#0000df"/>
<rect x="78.45" y="917.9" width="35.09" height="35.12" fill="#0000b2"/>
<rect x="112.94" y="917.9" width="34.16" height="35.12" fill="#0000bb"/>
<rect x="146.5" y="917.9" width="34.95" height="35.12" fill="#0000bb"/>
<rect x="180.85" y="917.9" width="35.65" height="35.12" fill="#0000ad"/>
<rect x="215.9" y="917.9" width="35.7" height="35.12" fill="#00009f"/>
<rect x="251" y="917.9" width="34.55" height="35.12" fill="#0005ff"/>
<rect x="284.95" y="917.9" width="37.6" height="35.12" fill="#004dff"/>
<rect x="321.95" y="917.9" width="35.55" height="35.12" fill="#0060ff"/>
<rect x="356.9" y="917.9" width="34.55" height="35.12" fill="#00b0ff"/>
<rect x="390.85" y="917.9" width="35.65" height="35.12" fill="#00a4ff"/>
<rect x="425.9" y="917.9" width="34.7" height="35.12" fill="#0048ff"/>
<rect x="460" y="917.9" width="32.63" height="35.12" fill="#00009f"/>
<rect x="78.45" y="952.42" width="35.09" height="35.12" fill="#0000ff"/>
<rect x="112.94" y="952.42" width="34.16" height="35.12" fill="#0000f1"/>
<rect x="146.5" y="952.42" width="34.95" height="35.12" fill="#0000ff"/>
<rect x="180.85" y="952.42" width="35.65" height="35.12" fill="#0000ff"/>
<rect x="215.9" y="952.42" width="35.7" height="35.12" fill="#0045ff"/>
<rect x="251" y="952.42" width="34.55" height="35.12" fill="#0000ff"/>
<rect x="284.95" y="952.42" width="37.6" height="35.12" fill="#0000fa"/>
<rect x="321.95" y="952.42" width="35.55" height="35.12" fill="#0078ff"/>
<rect x="356.9" y="952.42" width="34.55" height="35.12" fill="#008cff"/>
<rect x="390.85" y="952.42" width="35.65" height="35.12" fill="#0048ff"/>
<rect x="425.9" y="952.42" width="34.7" height="35.12" fill="#0000ff"/>
<rect x="460" y="952.42" width="32.63" height="35.12" fill="#0000ff"/>
<rect x="78.45" y="986.94" width="35.09" height="35.12" fill="#000dff"/>
<rect x="112.94" y="986.94" width="34.16" height="35.12" fill="#0018ff"/>
<rect x="146.5" y="986.94" width="34.95" height="35.12" fill="#0000ff"/>
<rect x="180.85" y="986.94" width="35.65" height="35.12" fill="#0000bb"/>
<rect x="215.9" y="986.94" width="35.7" height="35.12" fill="#0000cd"/>
<rect x="251" y="986.94" width="34.55" height="35.12" fill="#0005ff"/>
<rect x="284.95" y="986.94" width="37.6" height="35.12" fill="#0000f6"/>
<rect x="321.95" y="986.94" width="35.55" height="35.12" fill="#004dff"/>
<rect x="356.9" y="986.94" width="34.55" height="35.12" fill="#00b0ff"/>
<rect x="390.85" y="986.94" width="35.65" height="35.12" fill="#0090ff"/>
<rect x="425.9" y="986.94" width="34.7" height="35.12" fill="#0000ff"/>
<rect x="460" y="986.94" width="32.63" height="35.12" fill="#0000ff"/>
<rect x="78.45" y="1021.46" width="35.09" height="35.12" fill="#0000c4"/>
<rect x="112.94" y="1021.46" width="34.16" height="35.12" fill="#0000f6"/>
<rect x="146.5" y="1021.46" width="34.95" height="35.12" fill="#0000d1"/>
<rect x="180.85" y="1021.46" width="35.65" height="35.12" fill="#00009b"/>
<rect x="215.9" y="1021.46" width="35.7" height="35.12" fill="#0000e3"/>
<rect x="251" y="1021.46" width="34.55" height="35.12" fill="#005dff"/>
<rect x="284.95" y="1021.46" width="37.6" height="35.12" fill="#004dff"/>
<rect x="321.95" y="1021.46" width="35.55" height="35.12" fill="#0045ff"/>
<rect x="356.9" y="1021.46" width="34.55" height="35.12" fill="#0065ff"/>
<rect x="390.85" y="1021.46" width="35.65" height="35.12" fill="#0099ff"/>
<rect x="425.9" y="1021.46" width="34.7" height="35.12" fill="#0058ff"/>
<rect x="460" y="1021.46" width="32.63" height="35.12" fill="#0000d1"/>
<rect x="78.45" y="1055.98" width="35.09" height="35.12" fill="#0000b2"/>
<rect x="112.94" y="1055.98" width="34.16" height="35.12" fill="#0000c4"/>
<rect x="146.5" y="1055.98" width="34.95" height="35.12" fill="#0000c8"/>
<rect x="180.85" y="1055.98" width="35.65" height="35.12" fill="#0000bb"/>
<rect x="215.9" y="1055.98" width="35.7" height="35.12" fill="#000092"/>
<rect x="251" y="1055.98" width="34.55" height="35.12" fill="#0000ff"/>
<rect x="284.95" y="1055.98" width="37.6" height="35.12" fill="#005dff"/>
<rect x="321.95" y="1055.98" width="35.55" height="35.12" fill="#0084ff"/>
<rect x="356.9" y="1055.98" width="34.55" height="35.12" fill="#00b9ff"/>
<rect x="390.85" y="1055.98" width="35.65" height="35.12" fill="#0099ff"/>
<rect x="425.9" y="1055.98" width="34.7" height="35.12" fill="#0048ff"/>
<rect x="460" y="1055.98" width="32.63" height="35.12" fill="#0000c4"/>
<rect x="78.45" y="1090.5" width="35.09" height="35.12" fill="#0030ff"/>
<rect x="112.94" y="1090.5" width="34.16" height="35.12" fill="#0028ff"/>
<rect x="146.5" y="1090.5" width="34.95" height="35.12" fill="#0010ff"/>
<rect x="180.85" y="1090.5" width="35.65" height="35.12" fill="#0000d1"/>
<rect x="215.9" y="1090.5" width="35.7" height="35.12" fill="#0000d6"/>
<rect x="251" y="1090.5" width="34.55" height="35.12" fill="#0015ff"/>
<rect x="284.95" y="1090.5" width="37.6" height="35.12" fill="#001dff"/>
<rect x="321.95" y="1090.5" width="35.55" height="35.12" fill="#0070ff"/>
<rect x="356.9" y="1090.5" width="34.55" height="35.12" fill="#0099ff"/>
<rect x="390.85" y="1090.5" width="35.65" height="35.12" fill="#0065ff"/>
<rect x="425.9" y="1090.5" width="34.7" height="35.12" fill="#0000ff"/>
<rect x="460" y="1090.5" width="32.63" height="35.12" fill="#0000df"/>
<rect x="78.45" y="1125.02" width="35.09" height="35.12" fill="#0030ff"/>
<rect x="112.94" y="1125.02" width="34.16" height="35.12" fill="#0000da"/>
<rect x="146.5" y="1125.02" width="34.95" height="35.12" fill="#0000a4"/>
<rect x="180.85" y="1125.02" width="35.65" height="35.12" fill="#000089"/>
<rect x="215.9" y="1125.02" width="35.7" height="35.12" fill="#000080"/>
<rect x="251" y="1125.02" width="34.55" height="35.12" fill="#00009b"/>
<rect x="284.95" y="1125.02" width="37.6" height="35.12" fill="#0000ed"/>
<rect x="321.95" y="1125.02" width="35.55" height="35.12" fill="#0055ff"/>
<rect x="356.9" y="1125.02" width="34.55" height="35.12" fill="#0099ff"/>
<rect x="390.85" y="1125.02" width="35.65" height="35.12" fill="#0090ff"/>
<rect x="425.9" y="1125.02" width="34.7" height="35.12" fill="#0090ff"/>
<rect x="460" y="1125.02" width="32.63" height="35.12" fill="#0089ff"/>
<rect x="78.45" y="1159.54" width="35.09" height="35.12" fill="#0000f6"/>
<rect x="112.94" y="1159.54" width="34.16" height="35.12" fill="#0000ff"/>
<rect x="146.5" y="1159.54" width="34.95" height="35.12" fill="#0000da"/>
<rect x="180.85" y="1159.54" width="35.65" height="35.12" fill="#0000b2"/>
<rect x="215.9" y="1159.54" width="35.7" height="35.12" fill="#0005ff"/>
<rect x="251" y="1159.54" width="34.55" height="35.12" fill="#0025ff"/>
<rect x="284.95" y="1159.54" width="37.6" height="35.12" fill="#001dff"/>
<rect x="321.95" y="1159.54" width="35.55" height="35.12" fill="#0078ff"/>
<rect x="356.9" y="1159.54" width="34.55" height="35.12" fill="#00b0ff"/>
<rect x="390.85" y="1159.54" width="35.65" height="35.12" fill="#00b0ff"/>
<rect x="425.9" y="1159.54" width="34.7" height="35.12" fill="#0000ff"/>
<rect x="460" y="1159.54" width="32.63" height="35.12" fill="#0000c4"/>
<rect x="78.45" y="1194.06" width="35.09" height="35.12" fill="#0000c4"/>
<rect x="112.94" y="1194.06" width="34.16" height="35.12" fill="#0000f1"/>
<rect x="146.5" y="1194.06" width="34.95" height="35.12" fill="#0000d6"/>
<rect x="180.85" y="1194.06" width="35.65" height="35.12" fill="#0000b6"/>
<rect x="215.9" y="1194.06" width="35.7" height="35.12" fill="#0000d6"/>
<rect x="251" y="1194.06" width="34.55" height="35.12" fill="#0000f1"/>
<rect x="284.95" y="1194.06" width="37.6" height="35.12" fill="#0048ff"/>
<rect x="321.95" y="1194.06" width="35.55" height="35.12" fill="#00a4ff"/>
<rect x="356.9" y="1194.06" width="34.55" height="35.12" fill="#00e4f8"/>
<rect x="390.85" y="1194.06" width="35.65" height="35.12" fill="#009cff"/>
<rect x="425.9" y="1194.06" width="34.7" height="35.12" fill="#0028ff"/>
<rect x="460" y="1194.06" width="32.63" height="35.12" fill="#0000c4"/>
<rect x="78.45" y="1228.58" width="35.09" height="35.12" fill="#0000b6"/>
<rect x="112.94" y="1228.58" width="34.16" height="35.12" fill="#0000ad"/>
<rect x="146.5" y="1228.58" width="34.95" height="35.12" fill="#0000ad"/>
<rect x="180.85" y="1228.58" width="35.65" height="35.12" fill="#0000ad"/>
<rect x="215.9" y="1228.58" width="35.7" height="35.12" fill="#0000a8"/>
<rect x="251" y="1228.58" width="34.55" height="35.12" fill="#0000e8"/>
<rect x="284.95" y="1228.58" width="37.6" height="35.12" fill="#0000ff"/>
<rect x="321.95" y="1228.58" width="35.55" height="35.12" fill="#0080ff"/>
<rect x="356.9" y="1228.58" width="34.55" height="35.12" fill="#00ccff"/>
<rect x="390.85" y="1228.58" width="35.65" height="35.12" fill="#00c9ff"/>
<rect x="425.9" y="1228.58" width="34.7" height="35.12" fill="#008cff"/>
<rect x="460" y="1228.58" width="32.63" height="35.12" fill="#0028ff"/>
<rect x="78.45" y="1263.1" width="35.09" height="35.12" fill="#002dff"/>
<rect x="112.94" y="1263.1" width="34.16" height="35.12" fill="#0000df"/>
<rect x="146.5" y="1263.1" width="34.95" height="35.12" fill="#0000b2"/>
<rect x="180.85" y="1263.1" width="35.65" height="35.12" fill="#000089"/>
<rect x="215.9" y="1263.1" width="35.7" height="35.12" fill="#000084"/>
<rect x="251" y="1263.1" width="34.55" height="35.12" fill="#00009f"/>
<rect x="284.95" y="1263.1" width="37.6" height="35.12" fill="#0000cd"/>
<rect x="321.95" y="1263.1" width="35.55" height="35.12" fill="#0025ff"/>
<rect x="356.9" y="1263.1" width="34.55" height="35.12" fill="#0070ff"/>
<rect x="390.85" y="1263.1" width="35.65" height="35.12" fill="#00b0ff"/>
<rect x="425.9" y="1263.1" width="34.7" height="35.12" fill="#00d9ff"/>
<rect x="460" y="1263.1" width="32.63" height="35.12" fill="#009cff"/>
<rect x="78.45" y="1297.62" width="35.09" height="35.12" fill="#0000da"/>
<rect x="112.94" y="1297.62" width="34.16" height="35.12" fill="#0000ff"/>
<rect x="146.5" y="1297.62" width="34.95" height="35.12" fill="#0000a4"/>
<rect x="180.85" y="1297.62" width="35.65" height="35.12" fill="#00009f"/>
<rect x="215.9" y="1297.62" width="35.7" height="35.12" fill="#00009f"/>
<rect x="251" y="1297.62" width="34.55" height="35.12" fill="#0000ff"/>
<rect x="284.95" y="1297.62" width="37.6" height="35.12" fill="#0025ff"/>
<rect x="321.95" y="1297.62" width="35.55" height="35.12" fill="#0099ff"/>
<rect x="356.9" y="1297.62" width="34.55" height="35.12" fill="#00dcfe"/>
<rect x="390.85" y="1297.62" width="35.65" height="35.12" fill="#00b9ff"/>
<rect x="425.9" y="1297.62" width="34.7" height="35.12" fill="#0075ff"/>
<rect x="460" y="1297.62" width="32.63" height="35.12" fill="#0000ff"/>
<rect x="78.45" y="1332.14" width="35.09" height="35.12" fill="#0000e8"/>
<rect x="112.94" y="1332.14" width="34.16" height="35.12" fill="#0000ff"/>
<rect x="146.5" y="1332.14" width="34.95" height="35.12" fill="#0000ff"/>
<rect x="180.85" y="1332.14" width="35.65" height="35.12" fill="#0000b6"/>
<rect x="215.9" y="1332.14" width="35.7" height="35.12" fill="#0000bf"/>
<rect x="251" y="1332.14" width="34.55" height="35.12" fill="#0000d1"/>
<rect x="284.95" y="1332.14" width="37.6" height="35.12" fill="#0000e3"/>
<rect x="321.95" y="1332.14" width="35.55" height="35.12" fill="#0018ff"/>
<rect x="356.9" y="1332.14" width="34.55" height="35.12" fill="#00d9ff"/>
<rect x="390.85" y="1332.14" width="35.65" height="35.12" fill="#26ffd1"/>
<rect x="425.9" y="1332.14" width="34.7" height="35.12" fill="#00a0ff"/>
<rect x="460" y="1332.14" width="32.63" height="35.12" fill="#0000ff"/>
<rect x="78.45" y="1366.66" width="35.09" height="35.12" fill="#0000c4"/>
<rect x="112.94" y="1366.66" width="34.16" height="35.12" fill="#0000b6"/>
<rect x="146.5" y="1366.66" width="34.95" height="35.12" fill="#00009b"/>
<rect x="180.85" y="1366.66" width="35.65" height="35.12" fill="#00009f"/>
<rect x="215.9" y="1366.66" width="35.7" height="35.12" fill="#0000a8"/>
<rect x="251" y="1366.66" width="34.55" height="35.12" fill="#0000e8"/>
<rect x="284.95" y="1366.66" width="37.6" height="35.12" fill="#001dff"/>
<rect x="321.95" y="1366.66" width="35.55" height="35.12" fill="#00b0ff"/>
<rect x="356.9" y="1366.66" width="34.55" height="35.12" fill="#1fffd7"/>
<rect x="390.85" y="1366.66" width="35.65" height="35.12" fill="#09f0ee"/>
<rect x="425.9" y="1366.66" width="34.7" height="35.12" fill="#0080ff"/>
<rect x="460" y="1366.66" width="32.63" height="35.12" fill="#0000ff"/>
<rect x="78.45" y="1401.18" width="35.09" height="35.12" fill="#002dff"/>
<rect x="112.94" y="1401.18" width="34.16" height="35.12" fill="#0020ff"/>
<rect x="146.5" y="1401.18" width="34.95" height="35.12" fill="#0018ff"/>
<rect x="180.85" y="1401.18" width="35.65" height="35.12" fill="#0000ff"/>
<rect x="215.9" y="1401.18" width="35.7" height="35.12" fill="#0000ff"/>
<rect x="251" y="1401.18" width="34.55" height="35.12" fill="#0018ff"/>
<rect x="284.95" y="1401.18" width="37.6" height="35.12" fill="#000dff"/>
<rect x="321.95" y="1401.18" width="35.55" height="35.12" fill="#005dff"/>
<rect x="356.9" y="1401.18" width="34.55" height="35.12" fill="#00c4ff"/>
<rect x="390.85" y="1401.18" width="35.65" height="35.12" fill="#00c9ff"/>
<rect x="425.9" y="1401.18" width="34.7" height="35.12" fill="#0005ff"/>
<rect x="460" y="1401.18" width="32.63" height="35.12" fill="#0005ff"/>
<rect x="78.45" y="1435.7" width="35.09" height="35.12" fill="#0038ff"/>
<rect x="112.94" y="1435.7" width="34.16" height="35.12" fill="#0000ff"/>
<rect x="146.5" y="1435.7" width="34.95" height="35.12" fill="#0000df"/>
<rect x="180.85" y="1435.7" width="35.65" height="35.12" fill="#00009f"/>
<rect x="215.9" y="1435.7" width="35.7" height="35.12" fill="#000084"/>
<rect x="251" y="1435.7" width="34.55" height="35.12" fill="#000089"/>
<rect x="284.95" y="1435.7" width="37.6" height="35.12" fill="#0000e8"/>
<rect x="321.95" y="1435.7" width="35.55" height="35.12" fill="#0058ff"/>
<rect x="356.9" y="1435.7" width="34.55" height="35.12" fill="#00c0ff"/>
<rect x="390.85" y="1435.7" width="35.65" height="35.12" fill="#00c0ff"/>
<rect x="425.9" y="1435.7" width="34.7" height="35.12" fill="#00bcff"/>
<rect x="460" y="1435.7" width="32.63" height="35.12" fill="#008cff"/>
<rect x="78.45" y="1470.22" width="35.09" height="35.12" fill="#0020ff"/>
<rect x="112.94" y="1470.22" width="34.16" height="35.12" fill="#0030ff"/>
<rect x="146.5" y="1470.22" width="34.95" height="35.12" fill="#0005ff"/>
<rect x="180.85" y="1470.22" width="35.65" height="35.12" fill="#0000ed"/>
<rect x="215.9" y="1470.22" width="35.7" height="35.12" fill="#0000ed"/>
<rect x="251" y="1470.22" width="34.55" height="35.12" fill="#0005ff"/>
<rect x="284.95" y="1470.22" width="37.6" height="35.12" fill="#0000ff"/>
<rect x="321.95" y="1470.22" width="35.55" height="35.12" fill="#0048ff"/>
<rect x="356.9" y="1470.22" width="34.55" height="35.12" fill="#00c0ff"/>
<rect x="390.85" y="1470.22" width="35.65" height="35.12" fill="#06ecf1"/>
<rect x="425.9" y="1470.22" width="34.7" height="35.12" fill="#004dff"/>
<rect x="460" y="1470.22" width="32.63" height="35.12" fill="#0000f6"/>
<rect x="78.45" y="1504.74" width="35.09" height="35.12" fill="#0000b6"/>
<rect x="112.94" y="1504.74" width="34.16" height="35.12" fill="#0000d1"/>
<rect x="146.5" y="1504.74" width="34.95" height="35.12" fill="#0000d1"/>
<rect x="180.85" y="1504.74" width="35.65" height="35.12" fill="#0000b2"/>
<rect x="215.9" y="1504.74" width="35.7" height="35.12" fill="#0000e3"/>
<rect x="251" y="1504.74" width="34.55" height="35.12" fill="#0000ff"/>
<rect x="284.95" y="1504.74" width="37.6" height="35.12" fill="#003dff"/>
<rect x="321.95" y="1504.74" width="35.55" height="35.12" fill="#00a9ff"/>
<rect x="356.9" y="1504.74" width="34.55" height="35.12" fill="#1cffdb"/>
<rect x="390.85" y="1504.74" width="35.65" height="35.12" fill="#16ffe1"/>
<rect x="425.9" y="1504.74" width="34.7" height="35.12" fill="#0070ff"/>
<rect x="460" y="1504.74" width="32.63" height="35.12" fill="#0000c8"/>
<rect x="78.45" y="1539.26" width="35.09" height="35.12" fill="#0000d6"/>
<rect x="112.94" y="1539.26" width="34.16" height="35.12" fill="#0000cd"/>
<rect x="146.5" y="1539.26" width="34.95" height="35.12" fill="#0000ff"/>
<rect x="180.85" y="1539.26" width="35.65" height="35.12" fill="#0000e8"/>
<rect x="215.9" y="1539.26" width="35.7" height="35.12" fill="#0000ad"/>
<rect x="251" y="1539.26" width="34.55" height="35.12" fill="#0000ed"/>
<rect x="284.95" y="1539.26" width="37.6" height="35.12" fill="#002dff"/>
<rect x="321.95" y="1539.26" width="35.55" height="35.12" fill="#0089ff"/>
<rect x="356.9" y="1539.26" width="34.55" height="35.12" fill="#06ecf1"/>
<rect x="390.85" y="1539.26" width="35.65" height="35.12" fill="#26ffd1"/>
<rect x="425.9" y="1539.26" width="34.7" height="35.12" fill="#00a4ff"/>
<rect x="460" y="1539.26" width="32.63" height="35.12" fill="#0000ff"/>
<rect x="78.45" y="1573.78" width="35.09" height="35.12" fill="#0005ff"/>
<rect x="112.94" y="1573.78" width="34.16" height="35.12" fill="#0000c4"/>
<rect x="146.5" y="1573.78" width="34.95" height="35.12" fill="#0000a4"/>
<rect x="180.85" y="1573.78" width="35.65" height="35.12" fill="#000096"/>
<rect x="215.9" y="1573.78" width="35.7" height="35.12" fill="#000089"/>
<rect x="251" y="1573.78" width="34.55" height="35.12" fill="#0000a4"/>
<rect x="284.95" y="1573.78" width="37.6" height="35.12" fill="#0000ff"/>
<rect x="321.95" y="1573.78" width="35.55" height="35.12" fill="#0070ff"/>
<rect x="356.9" y="1573.78" width="34.55" height="35.12" fill="#06ecf1"/>
<rect x="390.85" y="1573.78" width="35.65" height="35.12" fill="#0cf4eb"/>
<rect x="425.9" y="1573.78" width="34.7" height="35.12" fill="#0cf4eb"/>
<rect x="460" y="1573.78" width="32.63" height="35.12" fill="#00acff"/>
<rect x="78.45" y="1608.3" width="35.09" height="35.12" fill="#005dff"/>
<rect x="112.94" y="1608.3" width="34.16" height="35.12" fill="#0000ff"/>
<rect x="146.5" y="1608.3" width="34.95" height="35.12" fill="#0000bf"/>
<rect x="180.85" y="1608.3" width="35.65" height="35.12" fill="#000084"/>
<rect x="215.9" y="1608.3" width="35.7" height="35.12" fill="#000084"/>
<rect x="251" y="1608.3" width="34.55" height="35.12" fill="#0000a8"/>
<rect x="284.95" y="1608.3" width="37.6" height="35.12" fill="#0000ff"/>
<rect x="321.95" y="1608.3" width="35.55" height="35.12" fill="#0065ff"/>
<rect x="356.9" y="1608.3" width="34.55" height="35.12" fill="#0090ff"/>
<rect x="390.85" y="1608.3" width="35.65" height="35.12" fill="#00d4ff"/>
<rect x="425.9" y="1608.3" width="34.7" height="35.12" fill="#33ffc4"/>
<rect x="460" y="1608.3" width="32.63" height="35.12" fill="#16ffe1"/>
<rect x="78.45" y="1642.82" width="35.09" height="35.12" fill="#0000f1"/>
<rect x="112.94" y="1642.82" width="34.16" height="35.12" fill="#0000e8"/>
<rect x="146.5" y="1642.82" width="34.95" height="35.12" fill="#0000fa"/>
<rect x="180.85" y="1642.82" width="35.65" height="35.12" fill="#0000f1"/>
<rect x="215.9" y="1642.82" width="35.7" height="35.12" fill="#0000f1"/>
<rect x="251" y="1642.82" width="34.55" height="35.12" fill="#0025ff"/>
<rect x="284.95" y="1642.82" width="37.6" height="35.12" fill="#0015ff"/>
<rect x="321.95" y="1642.82" width="35.55" height="35.12" fill="#00b4ff"/>
<rect x="356.9" y="1642.82" width="34.55" height="35.12" fill="#49ffad"/>
<rect x="390.85" y="1642.82" width="35.65" height="35.12" fill="#29ffce"/>
<rect x="425.9" y="1642.82" width="34.7" height="35.12" fill="#00b0ff"/>
<rect x="460" y="1642.82" width="32.63" height="35.12" fill="#0000d1"/>
<rect x="78.45" y="1677.34" width="35.09" height="35.12" fill="#0000ff"/>
<rect x="112.94" y="1677.34" width="34.16" height="35.12" fill="#0000e3"/>
<rect x="146.5" y="1677.34" width="34.95" height="35.12" fill="#0000bf"/>
<rect x="180.85" y="1677.34" width="35.65" height="35.12" fill="#0000bf"/>
<rect x="215.9" y="1677.34" width="35.7" height="35.12" fill="#000080"/>
<rect x="251" y="1677.34" width="34.55" height="35.12" fill="#0000a4"/>
<rect x="284.95" y="1677.34" width="37.6" height="35.12" fill="#0025ff"/>
<rect x="321.95" y="1677.34" width="35.55" height="35.12" fill="#00a9ff"/>
<rect x="356.9" y="1677.34" width="34.55" height="35.12" fill="#29ffce"/>
<rect x="390.85" y="1677.34" width="35.65" height="35.12" fill="#49ffad"/>
<rect x="425.9" y="1677.34" width="34.7" height="35.12" fill="#06ecf1"/>
<rect x="460" y="1677.34" width="32.63" height="35.12" fill="#004dff"/>
<rect x="78.45" y="1711.86" width="35.09" height="35.12" fill="#0055ff"/>
<rect x="112.94" y="1711.86" width="34.16" height="35.12" fill="#0000cd"/>
<rect x="146.5" y="1711.86" width="34.95" height="35.12" fill="#0000bb"/>
<rect x="180.85" y="1711.86" width="35.65" height="35.12" fill="#00008d"/>
<rect x="215.9" y="1711.86" width="35.7" height="35.12" fill="#00008d"/>
<rect x="251" y="1711.86" width="34.55" height="35.12" fill="#0000bb"/>
<rect x="284.95" y="1711.86" width="37.6" height="35.12" fill="#0000ff"/>
<rect x="321.95" y="1711.86" width="35.55" height="35.12" fill="#0094ff"/>
<rect x="356.9" y="1711.86" width="34.55" height="35.12" fill="#00d4ff"/>
<rect x="390.85" y="1711.86" width="35.65" height="35.12" fill="#0cf4eb"/>
<rect x="425.9" y="1711.86" width="34.7" height="35.12" fill="#2cffca"/>
<rect x="460" y="1711.86" width="32.63" height="35.12" fill="#16ffe1"/>
<rect x="78.45" y="1746.38" width="35.09" height="35.12" fill="#0000e3"/>
<rect x="112.94" y="1746.38" width="34.16" height="35.12" fill="#0025ff"/>
<rect x="146.5" y="1746.38" width="34.95" height="35.12" fill="#0005ff"/>
<rect x="180.85" y="1746.38" width="35.65" height="35.12" fill="#0000b2"/>
<rect x="215.9" y="1746.38" width="35.7" height="35.12" fill="#0000ed"/>
<rect x="251" y="1746.38" width="34.55" height="35.12" fill="#0050ff"/>
<rect x="284.95" y="1746.38" width="37.6" height="35.12" fill="#00acff"/>
<rect x="321.95" y="1746.38" width="35.55" height="35.12" fill="#36ffc1"/>
<rect x="356.9" y="1746.38" width="34.55" height="35.12" fill="#49ffad"/>
<rect x="390.85" y="1746.38" width="35.65" height="35.12" fill="#06ecf1"/>
<rect x="425.9" y="1746.38" width="34.7" height="35.12" fill="#0005ff"/>
<rect x="460" y="1746.38" width="32.63" height="35.12" fill="#0000b6"/>
<rect x="78.45" y="1780.9" width="35.09" height="35.12" fill="#0000b6"/>
<rect x="112.94" y="1780.9" width="34.16" height="35.12" fill="#00008d"/>
<rect x="146.5" y="1780.9" width="34.95" height="35.12" fill="#000080"/>
<rect x="180.85" y="1780.9" width="35.65" height="35.12" fill="#000084"/>
<rect x="215.9" y="1780.9" width="35.7" height="35.12" fill="#0000ad"/>
<rect x="251" y="1780.9" width="34.55" height="35.12" fill="#002dff"/>
<rect x="284.95" y="1780.9" width="37.6" height="35.12" fill="#00c4ff"/>
<rect x="321.95" y="1780.9" width="35.55" height="35.12" fill="#39ffbe"/>
<rect x="356.9" y="1780.9" width="34.55" height="35.12" fill="#39ffbe"/>
<rect x="390.85" y="1780.9" width="35.65" height="35.12" fill="#13fce4"/>
<rect x="425.9" y="1780.9" width="34.7" height="35.12" fill="#009cff"/>
<rect x="460" y="1780.9" width="32.63" height="35.12" fill="#003dff"/>
<rect x="78.45" y="1815.42" width="35.09" height="35.12" fill="#0000ff"/>
<rect x="112.94" y="1815.42" width="34.16" height="35.12" fill="#0000cd"/>
<rect x="146.5" y="1815.42" width="34.95" height="35.12" fill="#0000e8"/>
<rect x="180.85" y="1815.42" width="35.65" height="35.12" fill="#0000e8"/>
<rect x="215.9" y="1815.42" width="35.7" height="35.12" fill="#0000bb"/>
<rect x="251" y="1815.42" width="34.55" height="35.12" fill="#000dff"/>
<rect x="284.95" y="1815.42" width="37.6" height="35.12" fill="#0000ff"/>
<rect x="321.95" y="1815.42" width="35.55" height="35.12" fill="#0038ff"/>
<rect x="356.9" y="1815.42" width="34.55" height="35.12" fill="#19ffde"/>
<rect x="390.85" y="1815.42" width="35.65" height="35.12" fill="#7dff7a"/>
<rect x="425.9" y="1815.42" width="34.7" height="35.12" fill="#2cffca"/>
<rect x="460" y="1815.42" width="32.63" height="35.12" fill="#0060ff"/>
<rect x="78.45" y="1849.94" width="35.09" height="35.12" fill="#0000f1"/>
<rect x="112.94" y="1849.94" width="34.16" height="35.12" fill="#0000e3"/>
<rect x="146.5" y="1849.94" width="34.95" height="35.12" fill="#0000fa"/>
<rect x="180.85" y="1849.94" width="35.65" height="35.12" fill="#0000a8"/>
<rect x="215.9" y="1849.94" width="35.7" height="35.12" fill="#0000d1"/>
<rect x="251" y="1849.94" width="34.55" height="35.12" fill="#0008ff"/>
<rect x="284.95" y="1849.94" width="37.6" height="35.12" fill="#0045ff"/>
<rect x="321.95" y="1849.94" width="35.55" height="35.12" fill="#16ffe1"/>
<rect x="356.9" y="1849.94" width="34.55" height="35.12" fill="#8dff6a"/>
<rect x="390.85" y="1849.94" width="35.65" height="35.12" fill="#40ffb7"/>
<rect x="425.9" y="1849.94" width="34.7" height="35.12" fill="#0089ff"/>
<rect x="460" y="1849.94" width="32.63" height="35.12" fill="#0000b6"/>
<rect x="78.45" y="1884.46" width="35.09" height="35.12" fill="#0060ff"/>
<rect x="112.94" y="1884.46" width="34.16" height="35.12" fill="#004dff"/>
<rect x="146.5" y="1884.46" width="34.95" height="35.12" fill="#002dff"/>
<rect x="180.85" y="1884.46" width="35.65" height="35.12" fill="#0000e3"/>
<rect x="215.9" y="1884.46" width="35.7" height="35.12" fill="#0005ff"/>
<rect x="251" y="1884.46" width="34.55" height="35.12" fill="#0050ff"/>
<rect x="284.95" y="1884.46" width="37.6" height="35.12" fill="#007dff"/>
<rect x="321.95" y="1884.46" width="35.55" height="35.12" fill="#00d0ff"/>
<rect x="356.9" y="1884.46" width="34.55" height="35.12" fill="#16ffe1"/>
<rect x="390.85" y="1884.46" width="35.65" height="35.12" fill="#00dcfe"/>
<rect x="425.9" y="1884.46" width="34.7" height="35.12" fill="#0078ff"/>
<rect x="460" y="1884.46" width="32.63" height="35.12" fill="#0058ff"/>
<rect x="78.45" y="1918.98" width="35.09" height="35.12" fill="#0000ff"/>
<rect x="112.94" y="1918.98" width="34.16" height="35.12" fill="#001dff"/>
<rect x="146.5" y="1918.98" width="34.95" height="35.12" fill="#0000fa"/>
<rect x="180.85" y="1918.98" width="35.65" height="35.12" fill="#0000cd"/>
<rect x="215.9" y="1918.98" width="35.7" height="35.12" fill="#0000df"/>
<rect x="251" y="1918.98" width="34.55" height="35.12" fill="#0000ff"/>
<rect x="284.95" y="1918.98" width="37.6" height="35.12" fill="#0015ff"/>
<rect x="321.95" y="1918.98" width="35.55" height="35.12" fill="#0094ff"/>
<rect x="356.9" y="1918.98" width="34.55" height="35.12" fill="#50ffa7"/>
<rect x="390.85" y="1918.98" width="35.65" height="35.12" fill="#8aff6d"/>
<rect x="425.9" y="1918.98" width="34.7" height="35.12" fill="#00e0fb"/>
<rect x="460" y="1918.98" width="32.63" height="35.12" fill="#0000ff"/>
<rect x="78.45" y="1953.5" width="35.09" height="35.12" fill="#0000df"/>
<rect x="112.94" y="1953.5" width="34.16" height="35.12" fill="#0000c4"/>
<rect x="146.5" y="1953.5" width="34.95" height="35.12" fill="#0000f6"/>
<rect x="180.85" y="1953.5" width="35.65" height="35.12" fill="#0000f6"/>
<rect x="215.9" y="1953.5" width="35.7" height="35.12" fill="#0000bb"/>
<rect x="251" y="1953.5" width="34.55" height="35.12" fill="#0000ff"/>
<rect x="284.95" y="1953.5" width="37.6" height="35.12" fill="#0050ff"/>
<rect x="321.95" y="1953.5" width="35.55" height="35.12" fill="#13fce4"/>
<rect x="356.9" y="1953.5" width="34.55" height="35.12" fill="#56ffa0"/>
<rect x="390.85" y="1953.5" width="35.65" height="35.12" fill="#6aff8d"/>
<rect x="425.9" y="1953.5" width="34.7" height="35.12" fill="#26ffd1"/>
<rect x="460" y="1953.5" width="32.63" height="35.12" fill="#0025ff"/>
<rect x="78.45" y="1988.02" width="35.09" height="35.12" fill="#000dff"/>
<rect x="112.94" y="1988.02" width="34.16" height="35.12" fill="#0035ff"/>
<rect x="146.5" y="1988.02" width="34.95" height="35.12" fill="#0000ff"/>
<rect x="180.85" y="1988.02" width="35.65" height="35.12" fill="#0000df"/>
<rect x="215.9" y="1988.02" width="35.7" height="35.12" fill="#0000e8"/>
<rect x="251" y="1988.02" width="34.55" height="35.12" fill="#0018ff"/>
<rect x="284.95" y="1988.02" width="37.6" height="35.12" fill="#0018ff"/>
<rect x="321.95" y="1988.02" width="35.55" height="35.12" fill="#00a9ff"/>
<rect x="356.9" y="1988.02" width="34.55" height="35.12" fill="#60ff97"/>
<rect x="390.85" y="1988.02" width="35.65" height="35.12" fill="#a4ff53"/>
<rect x="425.9" y="1988.02" width="34.7" height="35.12" fill="#02e9f4"/>
<rect x="460" y="1988.02" width="32.63" height="35.12" fill="#0005ff"/>
<rect x="78.45" y="2022.54" width="35.09" height="35.12" fill="#0025ff"/>
<rect x="112.94" y="2022.54" width="34.16" height="35.12" fill="#0000ed"/>
<rect x="146.5" y="2022.54" width="34.95" height="35.12" fill="#0000ff"/>
<rect x="180.85" y="2022.54" width="35.65" height="35.12" fill="#0000c4"/>
<rect x="215.9" y="2022.54" width="35.7" height="35.12" fill="#0000b2"/>
<rect x="251" y="2022.54" width="34.55" height="35.12" fill="#0010ff"/>
<rect x="284.95" y="2022.54" width="37.6" height="35.12" fill="#0075ff"/>
<rect x="321.95" y="2022.54" width="35.55" height="35.12" fill="#2cffca"/>
<rect x="356.9" y="2022.54" width="34.55" height="35.12" fill="#73ff83"/>
<rect x="390.85" y="2022.54" width="35.65" height="35.12" fill="#43ffb4"/>
<rect x="425.9" y="2022.54" width="34.7" height="35.12" fill="#00e0fb"/>
<rect x="460" y="2022.54" width="32.63" height="35.12" fill="#0078ff"/>
<rect x="78.45" y="2057.06" width="35.09" height="35.12" fill="#0000ff"/>
<rect x="112.94" y="2057.06" width="34.16" height="35.12" fill="#0000bb"/>
<rect x="146.5" y="2057.06" width="34.95" height="35.12" fill="#00009f"/>
<rect x="180.85" y="2057.06" width="35.65" height="35.12" fill="#000092"/>
<rect x="215.9" y="2057.06" width="35.7" height="35.12" fill="#0000ad"/>
<rect x="251" y="2057.06" width="34.55" height="35.12" fill="#0058ff"/>
<rect x="284.95" y="2057.06" width="37.6" height="35.12" fill="#00d0ff"/>
<rect x="321.95" y="2057.06" width="35.55" height="35.12" fill="#46ffb1"/>
<rect x="356.9" y="2057.06" width="34.55" height="35.12" fill="#6dff8a"/>
<rect x="390.85" y="2057.06" width="35.65" height="35.12" fill="#50ffa7"/>
<rect x="425.9" y="2057.06" width="34.7" height="35.12" fill="#09f0ee"/>
<rect x="460" y="2057.06" width="32.63" height="35.12" fill="#0050ff"/>
<rect x="78.45" y="2091.58" width="35.09" height="35.12" fill="#0060ff"/>
<rect x="112.94" y="2091.58" width="34.16" height="35.12" fill="#0000e3"/>
<rect x="146.5" y="2091.58" width="34.95" height="35.12" fill="#0000b2"/>
<rect x="180.85" y="2091.58" width="35.65" height="35.12" fill="#00009f"/>
<rect x="215.9" y="2091.58" width="35.7" height="35.12" fill="#00009b"/>
<rect x="251" y="2091.58" width="34.55" height="35.12" fill="#0000e3"/>
<rect x="284.95" y="2091.58" width="37.6" height="35.12" fill="#0058ff"/>
<rect x="321.95" y="2091.58" width="35.55" height="35.12" fill="#26ffd1"/>
<rect x="356.9" y="2091.58" width="34.55" height="35.12" fill="#3cffba"/>
<rect x="390.85" y="2091.58" width="35.65" height="35.12" fill="#53ffa4"/>
<rect x="425.9" y="2091.58" width="34.7" height="35.12" fill="#49ffad"/>
<rect x="460" y="2091.58" width="32.63" height="35.12" fill="#00d9ff"/>
<rect x="78.45" y="2126.1" width="35.09" height="35.12" fill="#0038ff"/>
<rect x="112.94" y="2126.1" width="34.16" height="35.12" fill="#0018ff"/>
<rect x="146.5" y="2126.1" width="34.95" height="35.12" fill="#0000ff"/>
<rect x="180.85" y="2126.1" width="35.65" height="35.12" fill="#0000f1"/>
<rect x="215.9" y="2126.1" width="35.7" height="35.12" fill="#0000ff"/>
<rect x="251" y="2126.1" width="34.55" height="35.12" fill="#0045ff"/>
<rect x="284.95" y="2126.1" width="37.6" height="35.12" fill="#0084ff"/>
<rect x="321.95" y="2126.1" width="35.55" height="35.12" fill="#36ffc1"/>
<rect x="356.9" y="2126.1" width="34.55" height="35.12" fill="#94ff63"/>
<rect x="390.85" y="2126.1" width="35.65" height="35.12" fill="#5dff9a"/>
<rect x="425.9" y="2126.1" width="34.7" height="35.12" fill="#0060ff"/>
<rect x="460" y="2126.1" width="32.63" height="35.12" fill="#0015ff"/>
<rect x="78.45" y="2160.62" width="35.09" height="35.12" fill="#0000ff"/>
<rect x="112.94" y="2160.62" width="34.16" height="35.12" fill="#0000bf"/>
<rect x="146.5" y="2160.62" width="34.95" height="35.12" fill="#0000ad"/>
<rect x="180.85" y="2160.62" width="35.65" height="35.12" fill="#0000ad"/>
<rect x="215.9" y="2160.62" width="35.7" height="35.12" fill="#0000b6"/>
<rect x="251" y="2160.62" width="34.55" height="35.12" fill="#0065ff"/>
<rect x="284.95" y="2160.62" width="37.6" height="35.12" fill="#0ff9e7"/>
<rect x="321.95" y="2160.62" width="35.55" height="35.12" fill="#5aff9d"/>
<rect x="356.9" y="2160.62" width="34.55" height="35.12" fill="#5aff9d"/>
<rect x="390.85" y="2160.62" width="35.65" height="35.12" fill="#46ffb1"/>
<rect x="425.9" y="2160.62" width="34.7" height="35.12" fill="#06ecf1"/>
<rect x="460" y="2160.62" width="32.63" height="35.12" fill="#005dff"/>
<rect x="78.45" y="2195.14" width="35.09" height="35.12" fill="#0045ff"/>
<rect x="112.94" y="2195.14" width="34.16" height="35.12" fill="#0000df"/>
<rect x="146.5" y="2195.14" width="34.95" height="35.12" fill="#0000b6"/>
<rect x="180.85" y="2195.14" width="35.65" height="35.12" fill="#00009f"/>
<rect x="215.9" y="2195.14" width="35.7" height="35.12" fill="#0000a8"/>
<rect x="251" y="2195.14" width="34.55" height="35.12" fill="#0000fa"/>
<rect x="284.95" y="2195.14" width="37.6" height="35.12" fill="#0020ff"/>
<rect x="321.95" y="2195.14" width="35.55" height="35.12" fill="#00b0ff"/>
<rect x="356.9" y="2195.14" width="34.55" height="35.12" fill="#53ffa4"/>
<rect x="390.85" y="2195.14" width="35.65" height="35.12" fill="#b1ff46"/>
<rect x="425.9" y="2195.14" width="34.7" height="35.12" fill="#80ff77"/>
<rect x="460" y="2195.14" width="32.63" height="35.12" fill="#00c4ff"/>
<rect x="78.45" y="2229.66" width="35.09" height="35.12" fill="#0028ff"/>
<rect x="112.94" y="2229.66" width="34.16" height="35.12" fill="#0000f1"/>
<rect x="146.5" y="2229.66" width="34.95" height="35.12" fill="#0035ff"/>
<rect x="180.85" y="2229.66" width="35.65" height="35.12" fill="#001dff"/>
<rect x="215.9" y="2229.66" width="35.7" height="35.12" fill="#0000f1"/>
<rect x="251" y="2229.66" width="34.55" height="35.12" fill="#0065ff"/>
<rect x="284.95" y="2229.66" width="37.6" height="35.12" fill="#0070ff"/>
<rect x="321.95" y="2229.66" width="35.55" height="35.12" fill="#1fffd7"/>
<rect x="356.9" y="2229.66" width="34.55" height="35.12" fill="#7aff7d"/>
<rect x="390.85" y="2229.66" width="35.65" height="35.12" fill="#baff3c"/>
<rect x="425.9" y="2229.66" width="34.7" height="35.12" fill="#53ffa4"/>
<rect x="460" y="2229.66" width="32.63" height="35.12" fill="#007dff"/>
<rect x="78.45" y="2264.18" width="35.09" height="35.12" fill="#0038ff"/>
<rect x="112.94" y="2264.18" width="34.16" height="35.12" fill="#0000ff"/>
<rect x="146.5" y="2264.18" width="34.95" height="35.12" fill="#0000b6"/>
<rect x="180.85" y="2264.18" width="35.65" height="35.12" fill="#00009f"/>
<rect x="215.9" y="2264.18" width="35.7" height="35.12" fill="#00009f"/>
<rect x="251" y="2264.18" width="34.55" height="35.12" fill="#0000fa"/>
<rect x="284.95" y="2264.18" width="37.6" height="35.12" fill="#0045ff"/>
<rect x="321.95" y="2264.18" width="35.55" height="35.12" fill="#2cffca"/>
<rect x="356.9" y="2264.18" width="34.55" height="35.12" fill="#a4ff53"/>
<rect x="390.85" y="2264.18" width="35.65" height="35.12" fill="#f1fc06"/>
<rect x="425.9" y="2264.18" width="34.7" height="35.12" fill="#adff49"/>
<rect x="460" y="2264.18" width="32.63" height="35.12" fill="#1fffd7"/>
<rect x="78.45" y="2298.7" width="35.09" height="35.12" fill="#0070ff"/>
<rect x="112.94" y="2298.7" width="34.16" height="35.12" fill="#0000ff"/>
<rect x="146.5" y="2298.7" width="34.95" height="35.12" fill="#0000ff"/>
<rect x="180.85" y="2298.7" width="35.65" height="35.12" fill="#0028ff"/>
<rect x="215.9" y="2298.7" width="35.7" height="35.12" fill="#0000d1"/>
<rect x="251" y="2298.7" width="34.55" height="35.12" fill="#0055ff"/>
<rect x="284.95" y="2298.7" width="37.6" height="35.12" fill="#0060ff"/>
<rect x="321.95" y="2298.7" width="35.55" height="35.12" fill="#06ecf1"/>
<rect x="356.9" y="2298.7" width="34.55" height="35.12" fill="#8aff6d"/>
<rect x="390.85" y="2298.7" width="35.65" height="35.12" fill="#e7ff0f"/>
<rect x="425.9" y="2298.7" width="34.7" height="35.12" fill="#9aff5d"/>
<rect x="460" y="2298.7" width="32.63" height="35.12" fill="#16ffe1"/>
<rect x="78.45" y="2333.22" width="35.09" height="35.12" fill="#0020ff"/>
<rect x="112.94" y="2333.22" width="34.16" height="35.12" fill="#0000e8"/>
<rect x="146.5" y="2333.22" width="34.95" height="35.12" fill="#0000f1"/>
<rect x="180.85" y="2333.22" width="35.65" height="35.12" fill="#0000df"/>
<rect x="215.9" y="2333.22" width="35.7" height="35.12" fill="#0000bb"/>
<rect x="251" y="2333.22" width="34.55" height="35.12" fill="#0090ff"/>
<rect x="284.95" y="2333.22" width="37.6" height="35.12" fill="#50ffa7"/>
<rect x="321.95" y="2333.22" width="35.55" height="35.12" fill="#a4ff53"/>
<rect x="356.9" y="2333.22" width="34.55" height="35.12" fill="#deff19"/>
<rect x="390.85" y="2333.22" width="35.65" height="35.12" fill="#ffde00"/>
<rect x="425.9" y="2333.22" width="34.7" height="35.12" fill="#c7ff30"/>
<rect x="460" y="2333.22" width="32.63" height="35.12" fill="#1cffdb"/>
<rect x="78.45" y="2367.74" width="35.09" height="35.12" fill="#002dff"/>
<rect x="112.94" y="2367.74" width="34.16" height="35.12" fill="#0000d6"/>
<rect x="146.5" y="2367.74" width="34.95" height="35.12" fill="#0000df"/>
<rect x="180.85" y="2367.74" width="35.65" height="35.12" fill="#0000df"/>
<rect x="215.9" y="2367.74" width="35.7" height="35.12" fill="#0000d6"/>
<rect x="251" y="2367.74" width="34.55" height="35.12" fill="#00b9ff"/>
<rect x="284.95" y="2367.74" width="37.6" height="35.12" fill="#56ffa0"/>
<rect x="321.95" y="2367.74" width="35.55" height="35.12" fill="#d4ff23"/>
<rect x="356.9" y="2367.74" width="34.55" height="35.12" fill="#ffb600"/>
<rect x="390.85" y="2367.74" width="35.65" height="35.12" fill="#ff7a00"/>
<rect x="425.9" y="2367.74" width="34.7" height="35.12" fill="#ffc400"/>
<rect x="460" y="2367.74" width="32.63" height="35.12" fill="#56ffa0"/>
</g>
<path class="ln" d="M76.45 89.42H494.13M76.45 123.94H494.13M76.45 158.46H494.13M76.45 192.98H494.13M76.45 227.5H494.13M76.45 262.02H494.13M76.45 296.54H494.13M76.45 331.06H494.13M76.45 365.58H494.13M76.45 400.1H494.13M76.45 434.62H494.13M76.45 469.14H494.13M76.45 503.66H494.13M76.45 538.18H494.13M76.45 572.7H494.13M76.45 607.22H494.13M76.45 641.74H494.13M76.45 676.26H494.13M76.45 710.78H494.13M76.45 745.3H494.13M76.45 779.82H494.13M76.45 814.34H494.13M76.45 848.86H494.13M76.45 883.38H494.13M76.45 917.9H494.13M76.45 952.42H494.13M76.45 986.94H494.13M76.45 1021.46H494.13M76.45 1055.98H494.13M76.45 1090.5H494.13M76.45 1125.02H494.13M76.45 1159.54H494.13M76.45 1194.06H494.13M76.45 1228.58H494.13M76.45 1263.1H494.13M76.45 1297.62H494.13M76.45 1332.14H494.13M76.45 1366.66H494.13M76.45 1401.18H494.13M76.45 1435.7H494.13M76.45 1470.22H494.13M76.45 1504.74H494.13M76.45 1539.26H494.13M76.45 1573.78H494.13M76.45 1608.3H494.13M76.45 1642.82H494.13M76.45 1677.34H494.13M76.45 1711.86H494.13M76.45 1746.38H494.13M76.45 1780.9H494.13M76.45 1815.42H494.13M76.45 1849.94H494.13M76.45 1884.46H494.13M76.45 1918.98H494.13M76.45 1953.5H494.13M76.45 1988.02H494.13M76.45 2022.54H494.13M76.45 2057.06H494.13M76.45 2091.58H494.13M76.45 2126.1H494.13M76.45 2160.62H494.13M76.45 2195.14H494.13M76.45 2229.66H494.13M76.45 2264.18H494.13M76.45 2298.7H494.13M76.45 2333.22H494.13M76.45 2367.74H494.13"/>
<path class="ln" d="M95.71 2402.26V2415.86M130.22 2402.26V2415.86M164.74 2402.26V2415.86M199.25 2402.26V2415.86M233.77 2402.26V2415.86M268.28 2402.26V2415.86M302.8 2402.26V2415.86M337.31 2402.26V2415.86M371.83 2402.26V2415.86M406.34 2402.26V2415.86M440.86 2402.26V2415.86M475.37 2402.26V2415.86"/>
<rect class="sp" x="78.45" y="54.9" width="414.18" height="2347.36"/>
<text class="t m" x="95.71" y="2451">J</text>
<text class="t m" x="130.22" y="2451">F</text>
<text class="t m" x="164.74" y="2451">M</text>
<text class="t m" x="199.25" y="2451">A</text>
<text class="t m" x="233.77" y="2451">M</text>
<text class="t m" x="268.28" y="2451">J</text>
<text class="t m" x="302.8" y="2451">J</text>
<text class="t m" x="337.31" y="2451">A</text>
<text class="t m" x="371.83" y="2451">S</text>
<text class="t m" x="406.34" y="2451">O</text>
<text class="t m" x="440.86" y="2451">N</text>
<text class="t m" x="475.37" y="2451">D</text>
<text class="ti" x="285.54" y="32.5">(a) DMI</text>
<g shape-rendering="crispEdges">
<rect x="906.2" y="54.9" width="35.09" height="35.12" fill="#0040ff"/>
<rect x="940.69" y="54.9" width="34.16" height="35.12" fill="#0030ff"/>
<rect x="974.25" y="54.9" width="34.95" height="35.12" fill="#0008ff"/>
<rect x="1008.6" y="54.9" width="35.65" height="35.12" fill="#0000ff"/>
<rect x="1043.65" y="54.9" width="35.7" height="35.12" fill="#0000f6"/>
<rect x="1078.75" y="54.9" width="34.55" height="35.12" fill="#0000ed"/>
<rect x="1112.7" y="54.9" width="37.6" height="35.12" fill="#0000ff"/>
<rect x="1149.7" y="54.9" width="35.55" height="35.12" fill="#0010ff"/>
<rect x="1184.65" y="54.9" width="34.55" height="35.12" fill="#0000ff"/>
<rect x="1218.6" y="54.9" width="35.65" height="35.12" fill="#0000ff"/>
<rect x="1253.65" y="54.9" width="34.7" height="35.12" fill="#0028ff"/>
<rect x="1287.75" y="54.9" width="32.63" height="35.12" fill="#0035ff"/>
<rect x="906.2" y="89.42" width="35.09" height="35.12" fill="#0040ff"/>
<rect x="940.69" y="89.42" width="34.16" height="35.12" fill="#0005ff"/>
<rect x="974.25" y="89.42" width="34.95" height="35.12" fill="#0000ff"/>
<rect x="1008.6" y="89.42" width="35.65" height="35.12" fill="#0000df"/>
<rect x="1043.65" y="89.42" width="35.7" height="35.12" fill="#0000cd"/>
<rect x="1078.75" y="89.42" width="34.55" height="35.12" fill="#0000e3"/>
<rect x="1112.7" y="89.42" width="37.6" height="35.12" fill="#0000ff"/>
<rect x="1149.7" y="89.42" width="35.55" height="35.12" fill="#0000ff"/>
<rect x="1184.65" y="89.42" width="34.55" height="35.12" fill="#0000ff"/>
<rect x="1218.6" y="89.42" width="35.65" height="35.12" fill="#0000ff"/>
<rect x="1253.65" y="89.42" width="34.7" height="35.12" fill="#0000ff"/>
<rect x="1287.75" y="89.42" width="32.63" height="35.12" fill="#0010ff"/>
<rect x="906.2" y="123.94" width="35.09" height="35.12" fill="#008cff"/>
<rect x="940.69" y="123.94" width="34.16" height="35.12" fill="#004dff"/>
<rect x="974.25" y="123.94" width="34.95" height="35.12" fill="#0000ff"/>
<rect x="1008.6" y="123.94" width="35.65" height="35.12" fill="#0000ed"/>
<rect x="1043.65" y="123.94" width="35.7" height="35.12" fill="#0000d6"/>
<rect x="1078.75" y="123.94" width="34.55" height="35.12" fill="#0000e8"/>
<rect x="1112.7" y="123.94" width="37.6" height="35.12" fill="#0040ff"/>
<rect x="1149.7" y="123.94" width="35.55" height="35.12" fill="#008cff"/>
<rect x="1184.65" y="123.94" width="34.55" height="35.12" fill="#008cff"/>
<rect x="1218.6" y="123.94" width="35.65" height="35.12" fill="#0080ff"/>
<rect x="1253.65" y="123.94" width="34.7" height="35.12" fill="#0090ff"/>
<rect x="1287.75" y="123.94" width="32.63" height="35.12" fill="#00a0ff"/>
<rect x="906.2" y="158.46" width="35.09" height="35.12" fill="#0070ff"/>
<rect x="940.69" y="158.46" width="34.16" height="35.12" fill="#0045ff"/>
<rect x="974.25" y="158.46" width="34.95" height="35.12" fill="#0000ff"/>
<rect x="1008.6" y="158.46" width="35.65" height="35.12" fill="#0000ed"/>
<rect x="1043.65" y="158.46" width="35.7" height="35.12" fill="#0000d1"/>
<rect x="1078.75" y="158.46" width="34.55" height="35.12" fill="#0000e3"/>
<rect x="1112.7" y="158.46" width="37.6" height="35.12" fill="#0035ff"/>
<rect x="1149.7" y="158.46" width="35.55" height="35.12" fill="#0070ff"/>
<rect x="1184.65" y="158.46" width="34.55" height="35.12" fill="#0068ff"/>
<rect x="1218.6" y="158.46" width="35.65" height="35.12" fill="#005dff"/>
<rect x="1253.65" y="158.46" width="34.7" height="35.12" fill="#0068ff"/>
<rect x="1287.75" y="158.46" width="32.63" height="35.12" fill="#0078ff"/>
<rect x="906.2" y="192.98" width="35.09" height="35.12" fill="#0065ff"/>
<rect x="940.69" y="192.98" width="34.16" height="35.12" fill="#0050ff"/>
<rect x="974.25" y="192.98" width="34.95" height="35.12" fill="#001dff"/>
<rect x="1008.6" y="192.98" width="35.65" height="35.12" fill="#0000ff"/>
<rect x="1043.65" y="192.98" width="35.7" height="35.12" fill="#0000ff"/>
<rect x="1078.75" y="192.98" width="34.55" height="35.12" fill="#0000ff"/>
<rect x="1112.7" y="192.98" width="37.6" height="35.12" fill="#003dff"/>
<rect x="1149.7" y="192.98" width="35.55" height="35.12" fill="#0068ff"/>
<rect x="1184.65" y="192.98" width="34.55" height="35.12" fill="#006dff"/>
<rect x="1218.6" y="192.98" width="35.65" height="35.12" fill="#006dff"/>
<rect x="1253.65" y="192.98" width="34.7" height="35.12" fill="#0075ff"/>
<rect x="1287.75" y="192.98" width="32.63" height="35.12" fill="#0078ff"/>
<rect x="906.2" y="227.5" width="35.09" height="35.12" fill="#06ecf1"/>
<rect x="940.69" y="227.5" width="34.16" height="35.12" fill="#00c9ff"/>
<rect x="974.25" y="227.5" width="34.95" height="35.12" fill="#0084ff"/>
<rect x="1008.6" y="227.5" width="35.65" height="35.12" fill="#0058ff"/>
<rect x="1043.65" y="227.5" width="35.7" height="35.12" fill="#0048ff"/>
<rect x="1078.75" y="227.5" width="34.55" height="35.12" fill="#0048ff"/>
<rect x="1112.7" y="227.5" width="37.6" height="35.12" fill="#0080ff"/>
<rect x="1149.7" y="227.5" width="35.55" height="35.12" fill="#00d4ff"/>
<rect x="1184.65" y="227.5" width="34.55" height="35.12" fill="#0ff9e7"/>
<rect x="1218.6" y="227.5" width="35.65" height="35.12" fill="#19ffde"/>
<rect x="1253.65" y="227.5" width="34.7" height="35.12" fill="#23ffd4"/>
<rect x="1287.75" y="227.5" width="32.63" height="35.12" fill="#1fffd7"/>
<rect x="906.2" y="262.02" width="35.09" height="35.12" fill="#56ffa0"/>
<rect x="940.69" y="262.02" width="34.16" height="35.12" fill="#06ecf1"/>
<rect x="974.25" y="262.02" width="34.95" height="35.12" fill="#0099ff"/>
<rect x="1008.6" y="262.02" width="35.65" height="35.12" fill="#0045ff"/>
<rect x="1043.65" y="262.02" width="35.7" height="35.12" fill="#0050ff"/>
<rect x="1078.75" y="262.02" width="34.55" height="35.12" fill="#0058ff"/>
<rect x="1112.7" y="262.02" width="37.6" height="35.12" fill="#005dff"/>
<rect x="1149.7" y="262.02" width="35.55" height="35.12" fill="#0099ff"/>
<rect x="1184.65" y="262.02" width="34.55" height="35.12" fill="#00b9ff"/>
<rect x="1218.6" y="262.02" width="35.65" height="35.12" fill="#36ffc1"/>
<rect x="1253.65" y="262.02" width="34.7" height="35.12" fill="#60ff97"/>
<rect x="1287.75" y="262.02" width="32.63" height="35.12" fill="#8dff6a"/>
<rect x="906.2" y="296.54" width="35.09" height="35.12" fill="#0094ff"/>
<rect x="940.69" y="296.54" width="34.16" height="35.12" fill="#0094ff"/>
<rect x="974.25" y="296.54" width="34.95" height="35.12" fill="#00acff"/>
<rect x="1008.6" y="296.54" width="35.65" height="35.12" fill="#0078ff"/>
<rect x="1043.65" y="296.54" width="35.7" height="35.12" fill="#0048ff"/>
<rect x="1078.75" y="296.54" width="34.55" height="35.12" fill="#0018ff"/>
<rect x="1112.7" y="296.54" width="37.6" height="35.12" fill="#0000ff"/>
<rect x="1149.7" y="296.54" width="35.55" height="35.12" fill="#0025ff"/>
<rect x="1184.65" y="296.54" width="34.55" height="35.12" fill="#0050ff"/>
<rect x="1218.6" y="296.54" width="35.65" height="35.12" fill="#0055ff"/>
<rect x="1253.65" y="296.54" width="34.7" height="35.12" fill="#0065ff"/>
<rect x="1287.75" y="296.54" width="32.63" height="35.12" fill="#0099ff"/>
<rect x="906.2" y="331.06" width="35.09" height="35.12" fill="#00b0ff"/>
<rect x="940.69" y="331.06" width="34.16" height="35.12" fill="#00a9ff"/>
<rect x="974.25" y="331.06" width="34.95" height="35.12" fill="#00a9ff"/>
<rect x="1008.6" y="331.06" width="35.65" height="35.12" fill="#00b4ff"/>
<rect x="1043.65" y="331.06" width="35.7" height="35.12" fill="#00a0ff"/>
<rect x="1078.75" y="331.06" width="34.55" height="35.12" fill="#0080ff"/>
<rect x="1112.7" y="331.06" width="37.6" height="35.12" fill="#006dff"/>
<rect x="1149.7" y="331.06" width="35.55" height="35.12" fill="#007dff"/>
<rect x="1184.65" y="331.06" width="34.55" height="35.12" fill="#0094ff"/>
<rect x="1218.6" y="331.06" width="35.65" height="35.12" fill="#00b4ff"/>
<rect x="1253.65" y="331.06" width="34.7" height="35.12" fill="#00c0ff"/>
<rect x="1287.75" y="331.06" width="32.63" height="35.12" fill="#00c0ff"/>
<rect x="906.2" y="365.58" width="35.09" height="35.12" fill="#0078ff"/>
<rect x="940.69" y="365.58" width="34.16" height="35.12" fill="#005dff"/>
<rect x="974.25" y="365.58" width="34.95" height="35.12" fill="#005dff"/>
<rect x="1008.6" y="365.58" width="35.65" height="35.12" fill="#0058ff"/>
<rect x="1043.65" y="365.58" width="35.7" height="35.12" fill="#0045ff"/>
<rect x="1078.75" y="365.58" width="34.55" height="35.12" fill="#0018ff"/>
<rect x="1112.7" y="365.58" width="37.6" height="35.12" fill="#0000ff"/>
<rect x="1149.7" y="365.58" width="35.55" height="35.12" fill="#0025ff"/>
<rect x="1184.65" y="365.58" width="34.55" height="35.12" fill="#0045ff"/>
<rect x="1218.6" y="365.58" width="35.65" height="35.12" fill="#0050ff"/>
<rect x="1253.65" y="365.58" width="34.7" height="35.12" fill="#005dff"/>
<rect x="1287.75" y="365.58" width="32.63" height="35.12" fill="#0080ff"/>
<rect x="906.2" y="400.1" width="35.09" height="35.12" fill="#3cffba"/>
<rect x="940.69" y="400.1" width="34.16" height="35.12" fill="#23ffd4"/>
<rect x="974.25" y="400.1" width="34.95" height="35.12" fill="#09f0ee"/>
<rect x="1008.6" y="400.1" width="35.65" height="35.12" fill="#0099ff"/>
<rect x="1043.65" y="400.1" width="35.7" height="35.12" fill="#0058ff"/>
<rect x="1078.75" y="400.1" width="34.55" height="35.12" fill="#0025ff"/>
<rect x="1112.7" y="400.1" width="37.6" height="35.12" fill="#0025ff"/>
<rect x="1149.7" y="400.1" width="35.55" height="35.12" fill="#0080ff"/>
<rect x="1184.65" y="400.1" width="34.55" height="35.12" fill="#00bcff"/>
<rect x="1218.6" y="400.1" width="35.65" height="35.12" fill="#02e9f4"/>
<rect x="1253.65" y="400.1" width="34.7" height="35.12" fill="#33ffc4"/>
<rect x="1287.75" y="400.1" width="32.63" height="35.12" fill="#40ffb7"/>
<rect x="906.2" y="434.62" width="35.09" height="35.12" fill="#006dff"/>
<rect x="940.69" y="434.62" width="34.16" height="35.12" fill="#0055ff"/>
<rect x="974.25" y="434.62" width="34.95" height="35.12" fill="#0028ff"/>
<rect x="1008.6" y="434.62" width="35.65" height="35.12" fill="#0000ff"/>
<rect x="1043.65" y="434.62" width="35.7" height="35.12" fill="#0000ff"/>
<rect x="1078.75" y="434.62" width="34.55" height="35.12" fill="#0000ff"/>
<rect x="1112.7" y="434.62" width="37.6" height="35.12" fill="#0000ff"/>
<rect x="1149.7" y="434.62" width="35.55" height="35.12" fill="#0008ff"/>
<rect x="1184.65" y="434.62" width="34.55" height="35.12" fill="#0015ff"/>
<rect x="1218.6" y="434.62" width="35.65" height="35.12" fill="#0028ff"/>
<rect x="1253.65" y="434.62" width="34.7" height="35.12" fill="#003dff"/>
<rect x="1287.75" y="434.62" width="32.63" height="35.12" fill="#0055ff"/>
<rect x="906.2" y="469.14" width="35.09" height="35.12" fill="#002dff"/>
<rect x="940.69" y="469.14" width="34.16" height="35.12" fill="#002dff"/>
<rect x="974.25" y="469.14" width="34.95" height="35.12" fill="#0000ff"/>
<rect x="1008.6" y="469.14" width="35.65" height="35.12" fill="#0000ff"/>
<rect x="1043.65" y="469.14" width="35.7" height="35.12" fill="#0000f6"/>
<rect x="1078.75" y="469.14" width="34.55" height="35.12" fill="#0000ff"/>
<rect x="1112.7" y="469.14" width="37.6" height="35.12" fill="#0000ff"/>
<rect x="1149.7" y="469.14" width="35.55" height="35.12" fill="#0000ff"/>
<rect x="1184.65" y="469.14" width="34.55" height="35.12" fill="#0000ff"/>
<rect x="1218.6" y="469.14" width="35.65" height="35.12" fill="#0000ff"/>
<rect x="1253.65" y="469.14" width="34.7" height="35.12" fill="#000dff"/>
<rect x="1287.75" y="469.14" width="32.63" height="35.12" fill="#0018ff"/>
<rect x="906.2" y="503.66" width="35.09" height="35.12" fill="#00a4ff"/>
<rect x="940.69" y="503.66" width="34.16" height="35.12" fill="#0060ff"/>
<rect x="974.25" y="503.66" width="34.95" height="35.12" fill="#005dff"/>
<rect x="1008.6" y="503.66" width="35.65" height="35.12" fill="#0090ff"/>
<rect x="1043.65" y="503.66" width="35.7" height="35.12" fill="#0068ff"/>
<rect x="1078.75" y="503.66" width="34.55" height="35.12" fill="#0080ff"/>
<rect x="1112.7" y="503.66" width="37.6" height="35.12" fill="#0000ff"/>
<rect x="1149.7" y="503.66" width="35.55" height="35.12" fill="#0000ff"/>
<rect x="1184.65" y="503.66" width="34.55" height="35.12" fill="#002dff"/>
<rect x="1218.6" y="503.66" width="35.65" height="35.12" fill="#005dff"/>
<rect x="1253.65" y="503.66" width="34.7" height="35.12" fill="#0099ff"/>
<rect x="1287.75" y="503.66" width="32.63" height="35.12" fill="#0090ff"/>
<rect x="906.2" y="538.18" width="35.09" height="35.12" fill="#39ffbe"/>
<rect x="940.69" y="538.18" width="34.16" height="35.12" fill="#0ff9e7"/>
<rect x="974.25" y="538.18" width="34.95" height="35.12" fill="#00e0fb"/>
<rect x="1008.6" y="538.18" width="35.65" height="35.12" fill="#06ecf1"/>
<rect x="1043.65" y="538.18" width="35.7" height="35.12" fill="#19ffde"/>
<rect x="1078.75" y="538.18" width="34.55" height="35.12" fill="#02e9f4"/>
<rect x="1112.7" y="538.18" width="37.6" height="35.12" fill="#19ffde"/>
<rect x="1149.7" y="538.18" width="35.55" height="35.12" fill="#36ffc1"/>
<rect x="1184.65" y="538.18" width="34.55" height="35.12" fill="#40ffb7"/>
<rect x="1218.6" y="538.18" width="35.65" height="35.12" fill="#4dffaa"/>
<rect x="1253.65" y="538.18" width="34.7" height="35.12" fill="#63ff94"/>
<rect x="1287.75" y="538.18" width="32.63" height="35.12" fill="#6dff8a"/>
<rect x="906.2" y="572.7" width="35.09" height="35.12" fill="#70ff87"/>
<rect x="940.69" y="572.7" width="34.16" height="35.12" fill="#0ff9e7"/>
<rect x="974.25" y="572.7" width="34.95" height="35.12" fill="#0078ff"/>
<rect x="1008.6" y="572.7" width="35.65" height="35.12" fill="#0045ff"/>
<rect x="1043.65" y="572.7" width="35.7" height="35.12" fill="#004dff"/>
<rect x="1078.75" y="572.7" width="34.55" height="35.12" fill="#005dff"/>
<rect x="1112.7" y="572.7" width="37.6" height="35.12" fill="#006dff"/>
<rect x="1149.7" y="572.7" width="35.55" height="35.12" fill="#00b0ff"/>
<rect x="1184.65" y="572.7" width="34.55" height="35.12" fill="#06ecf1"/>
<rect x="1218.6" y="572.7" width="35.65" height="35.12" fill="#4dffaa"/>
<rect x="1253.65" y="572.7" width="34.7" height="35.12" fill="#73ff83"/>
<rect x="1287.75" y="572.7" width="32.63" height="35.12" fill="#9dff5a"/>
<rect x="906.2" y="607.22" width="35.09" height="35.12" fill="#00acff"/>
<rect x="940.69" y="607.22" width="34.16" height="35.12" fill="#00a9ff"/>
<rect x="974.25" y="607.22" width="34.95" height="35.12" fill="#0099ff"/>
<rect x="1008.6" y="607.22" width="35.65" height="35.12" fill="#0089ff"/>
<rect x="1043.65" y="607.22" width="35.7" height="35.12" fill="#009cff"/>
<rect x="1078.75" y="607.22" width="34.55" height="35.12" fill="#0094ff"/>
<rect x="1112.7" y="607.22" width="37.6" height="35.12" fill="#008cff"/>
<rect x="1149.7" y="607.22" width="35.55" height="35.12" fill="#0094ff"/>
<rect x="1184.65" y="607.22" width="34.55" height="35.12" fill="#0094ff"/>
<rect x="1218.6" y="607.22" width="35.65" height="35.12" fill="#009cff"/>
<rect x="1253.65" y="607.22" width="34.7" height="35.12" fill="#00a9ff"/>
<rect x="1287.75" y="607.22" width="32.63" height="35.12" fill="#00b0ff"/>
<rect x="906.2" y="641.74" width="35.09" height="35.12" fill="#73ff83"/>
<rect x="940.69" y="641.74" width="34.16" height="35.12" fill="#73ff83"/>
<rect x="974.25" y="641.74" width="34.95" height="35.12" fill="#56ffa0"/>
<rect x="1008.6" y="641.74" width="35.65" height="35.12" fill="#56ffa0"/>
<rect x="1043.65" y="641.74" width="35.7" height="35.12" fill="#56ffa0"/>
<rect x="1078.75" y="641.74" width="34.55" height="35.12" fill="#53ffa4"/>
<rect x="1112.7" y="641.74" width="37.6" height="35.12" fill="#53ffa4"/>
<rect x="1149.7" y="641.74" width="35.55" height="35.12" fill="#53ffa4"/>
<rect x="1184.65" y="641.74" width="34.55" height="35.12" fill="#49ffad"/>
<rect x="1218.6" y="641.74" width="35.65" height="35.12" fill="#40ffb7"/>
<rect x="1253.65" y="641.74" width="34.7" height="35.12" fill="#40ffb7"/>
<rect x="1287.75" y="641.74" width="32.63" height="35.12" fill="#56ffa0"/>
<rect x="906.2" y="676.26" width="35.09" height="35.12" fill="#00c9ff"/>
<rect x="940.69" y="676.26" width="34.16" height="35.12" fill="#00a0ff"/>
<rect x="974.25" y="676.26" width="34.95" height="35.12" fill="#0075ff"/>
<rect x="1008.6" y="676.26" width="35.65" height="35.12" fill="#0035ff"/>
<rect x="1043.65" y="676.26" width="35.7" height="35.12" fill="#0020ff"/>
<rect x="1078.75" y="676.26" width="34.55" height="35.12" fill="#0045ff"/>
<rect x="1112.7" y="676.26" width="37.6" height="35.12" fill="#0060ff"/>
<rect x="1149.7" y="676.26" width="35.55" height="35.12" fill="#0080ff"/>
<rect x="1184.65" y="676.26" width="34.55" height="35.12" fill="#0094ff"/>
<rect x="1218.6" y="676.26" width="35.65" height="35.12" fill="#02e9f4"/>
<rect x="1253.65" y="676.26" width="34.7" height="35.12" fill="#2cffca"/>
<rect x="1287.75" y="676.26" width="32.63" height="35.12" fill="#16ffe1"/>
<rect x="906.2" y="710.78" width="35.09" height="35.12" fill="#0068ff"/>
<rect x="940.69" y="710.78" width="34.16" height="35.12" fill="#0030ff"/>
<rect x="974.25" y="710.78" width="34.95" height="35.12" fill="#002dff"/>
<rect x="1008.6" y="710.78" width="35.65" height="35.12" fill="#0058ff"/>
<rect x="1043.65" y="710.78" width="35.7" height="35.12" fill="#007dff"/>
<rect x="1078.75" y="710.78" width="34.55" height="35.12" fill="#00c4ff"/>
<rect x="1112.7" y="710.78" width="37.6" height="35.12" fill="#1cffdb"/>
<rect x="1149.7" y="710.78" width="35.55" height="35.12" fill="#43ffb4"/>
<rect x="1184.65" y="710.78" width="34.55" height="35.12" fill="#1cffdb"/>
<rect x="1218.6" y="710.78" width="35.65" height="35.12" fill="#13fce4"/>
<rect x="1253.65" y="710.78" width="34.7" height="35.12" fill="#13fce4"/>
<rect x="1287.75" y="710.78" width="32.63" height="35.12" fill="#00d0ff"/>
<rect x="906.2" y="745.3" width="35.09" height="35.12" fill="#00a4ff"/>
<rect x="940.69" y="745.3" width="34.16" height="35.12" fill="#0094ff"/>
<rect x="974.25" y="745.3" width="34.95" height="35.12" fill="#0075ff"/>
<rect x="1008.6" y="745.3" width="35.65" height="35.12" fill="#0089ff"/>
<rect x="1043.65" y="745.3" width="35.7" height="35.12" fill="#00e0fb"/>
<rect x="1078.75" y="745.3" width="34.55" height="35.12" fill="#00d9ff"/>
<rect x="1112.7" y="745.3" width="37.6" height="35.12" fill="#00a4ff"/>
<rect x="1149.7" y="745.3" width="35.55" height="35.12" fill="#0084ff"/>
<rect x="1184.65" y="745.3" width="34.55" height="35.12" fill="#0075ff"/>
<rect x="1218.6" y="745.3" width="35.65" height="35.12" fill="#006dff"/>
<rect x="1253.65" y="745.3" width="34.7" height="35.12" fill="#0070ff"/>
<rect x="1287.75" y="745.3" width="32.63" height="35.12" fill="#008cff"/>
<rect x="906.2" y="779.82" width="35.09" height="35.12" fill="#80ff77"/>
<rect x="940.69" y="779.82" width="34.16" height="35.12" fill="#4dffaa"/>
<rect x="974.25" y="779.82" width="34.95" height="35.12" fill="#1cffdb"/>
<rect x="1008.6" y="779.82" width="35.65" height="35.12" fill="#00bcff"/>
<rect x="1043.65" y="779.82" width="35.7" height="35.12" fill="#00b4ff"/>
<rect x="1078.75" y="779.82" width="34.55" height="35.12" fill="#00b0ff"/>
<rect x="1112.7" y="779.82" width="37.6" height="35.12" fill="#0099ff"/>
<rect x="1149.7" y="779.82" width="35.55" height="35.12" fill="#00bcff"/>
<rect x="1184.65" y="779.82" width="34.55" height="35.12" fill="#33ffc4"/>
<rect x="1218.6" y="779.82" width="35.65" height="35.12" fill="#6dff8a"/>
<rect x="1253.65" y="779.82" width="34.7" height="35.12" fill="#87ff70"/>
<rect x="1287.75" y="779.82" width="32.63" height="35.12" fill="#90ff66"/>
<rect x="906.2" y="814.34" width="35.09" height="35.12" fill="#0099ff"/>
<rect x="940.69" y="814.34" width="34.16" height="35.12" fill="#0058ff"/>
<rect x="974.25" y="814.34" width="34.95" height="35.12" fill="#0030ff"/>
<rect x="1008.6" y="814.34" width="35.65" height="35.12" fill="#001dff"/>
<rect x="1043.65" y="814.34" width="35.7" height="35.12" fill="#0010ff"/>
<rect x="1078.75" y="814.34" width="34.55" height="35.12" fill="#0000f1"/>
<rect x="1112.7" y="814.34" width="37.6" height="35.12" fill="#0000e8"/>
<rect x="1149.7" y="814.34" width="35.55" height="35.12" fill="#0000ff"/>
<rect x="1184.65" y="814.34" width="34.55" height="35.12" fill="#0025ff"/>
<rect x="1218.6" y="814.34" width="35.65" height="35.12" fill="#0045ff"/>
<rect x="1253.65" y="814.34" width="34.7" height="35.12" fill="#006dff"/>
<rect x="1287.75" y="814.34" width="32.63" height="35.12" fill="#00a0ff"/>
<rect x="906.2" y="848.86" width="35.09" height="35.12" fill="#ff8900"/>
<rect x="940.69" y="848.86" width="34.16" height="35.12" fill="#feed00"/>
<rect x="974.25" y="848.86" width="34.95" height="35.12" fill="#c1ff36"/>
<rect x="1008.6" y="848.86" width="35.65" height="35.12" fill="#90ff66"/>
<rect x="1043.65" y="848.86" width="35.7" height="35.12" fill="#90ff66"/>
<rect x="1078.75" y="848.86" width="34.55" height="35.12" fill="#9aff5d"/>
<rect x="1112.7" y="848.86" width="37.6" height="35.12" fill="#c4ff33"/>
<rect x="1149.7" y="848.86" width="35.55" height="35.12" fill="#ffbd00"/>
<rect x="1184.65" y="848.86" width="34.55" height="35.12" fill="#ffb900"/>
<rect x="1218.6" y="848.86" width="35.65" height="35.12" fill="#ffab00"/>
<rect x="1253.65" y="848.86" width="34.7" height="35.12" fill="#ff3f00"/>
<rect x="1287.75" y="848.86" width="32.63" height="35.12" fill="#ff4700"/>
<rect x="906.2" y="883.38" width="35.09" height="35.12" fill="#1fffd7"/>
<rect x="940.69" y="883.38" width="34.16" height="35.12" fill="#0075ff"/>
<rect x="974.25" y="883.38" width="34.95" height="35.12" fill="#0048ff"/>
<rect x="1008.6" y="883.38" width="35.65" height="35.12" fill="#0048ff"/>
<rect x="1043.65" y="883.38" width="35.7" height="35.12" fill="#004dff"/>
<rect x="1078.75" y="883.38" width="34.55" height="35.12" fill="#0075ff"/>
<rect x="1112.7" y="883.38" width="37.6" height="35.12" fill="#009cff"/>
<rect x="1149.7" y="883.38" width="35.55" height="35.12" fill="#1cffdb"/>
<rect x="1184.65" y="883.38" width="34.55" height="35.12" fill="#5aff9d"/>
<rect x="1218.6" y="883.38" width="35.65" height="35.12" fill="#7dff7a"/>
<rect x="1253.65" y="883.38" width="34.7" height="35.12" fill="#7dff7a"/>
<rect x="1287.75" y="883.38" width="32.63" height="35.12" fill="#6dff8a"/>
<rect x="906.2" y="917.9" width="35.09" height="35.12" fill="#caff2c"/>
<rect x="940.69" y="917.9" width="34.16" height="35.12" fill="#eeff09"/>
<rect x="974.25" y="917.9" width="34.95" height="35.12" fill="#d4ff23"/>
<rect x="1008.6" y="917.9" width="35.65" height="35.12" fill="#d1ff26"/>
<rect x="1043.65" y="917.9" width="35.7" height="35.12" fill="#e7ff0f"/>
<rect x="1078.75" y="917.9" width="34.55" height="35.12" fill="#ffc100"/>
<rect x="1112.7" y="917.9" width="37.6" height="35.12" fill="#ffa300"/>
<rect x="1149.7" y="917.9" width="35.55" height="35.12" fill="#ffc800"/>
<rect x="1184.65" y="917.9" width="34.55" height="35.12" fill="#f8f500"/>
<rect x="1218.6" y="917.9" width="35.65" height="35.12" fill="#deff19"/>
<rect x="1253.65" y="917.9" width="34.7" height="35.12" fill="#b4ff43"/>
<rect x="1287.75" y="917.9" width="32.63" height="35.12" fill="#adff49"/>
<rect x="906.2" y="952.42" width="35.09" height="35.12" fill="#00c4ff"/>
<rect x="940.69" y="952.42" width="34.16" height="35.12" fill="#00a4ff"/>
<rect x="974.25" y="952.42" width="34.95" height="35.12" fill="#00a9ff"/>
<rect x="1008.6" y="952.42" width="35.65" height="35.12" fill="#00d4ff"/>
<rect x="1043.65" y="952.42" width="35.7" height="35.12" fill="#00d4ff"/>
<rect x="1078.75" y="952.42" width="34.55" height="35.12" fill="#0068ff"/>
<rect x="1112.7" y="952.42" width="37.6" height="35.12" fill="#0070ff"/>
<rect x="1149.7" y="952.42" width="35.55" height="35.12" fill="#0089ff"/>
<rect x="1184.65" y="952.42" width="34.55" height="35.12" fill="#00a4ff"/>
<rect x="1218.6" y="952.42" width="35.65" height="35.12" fill="#00ccff"/>
<rect x="1253.65" y="952.42" width="34.7" height="35.12" fill="#16ffe1"/>
<rect x="1287.75" y="952.42" width="32.63" height="35.12" fill="#0ff9e7"/>
<rect x="906.2" y="986.94" width="35.09" height="35.12" fill="#1fffd7"/>
<rect x="940.69" y="986.94" width="34.16" height="35.12" fill="#0ff9e7"/>
<rect x="974.25" y="986.94" width="34.95" height="35.12" fill="#0cf4eb"/>
<rect x="1008.6" y="986.94" width="35.65" height="35.12" fill="#0ff9e7"/>
<rect x="1043.65" y="986.94" width="35.7" height="35.12" fill="#1fffd7"/>
<rect x="1078.75" y="986.94" width="34.55" height="35.12" fill="#0cf4eb"/>
<rect x="1112.7" y="986.94" width="37.6" height="35.12" fill="#0094ff"/>
<rect x="1149.7" y="986.94" width="35.55" height="35.12" fill="#0089ff"/>
<rect x="1184.65" y="986.94" width="34.55" height="35.12" fill="#009cff"/>
<rect x="1218.6" y="986.94" width="35.65" height="35.12" fill="#00acff"/>
<rect x="1253.65" y="986.94" width="34.7" height="35.12" fill="#00c4ff"/>
<rect x="1287.75" y="986.94" width="32.63" height="35.12" fill="#0ff9e7"/>
<rect x="906.2" y="1021.46" width="35.09" height="35.12" fill="#00bcff"/>
<rect x="940.69" y="1021.46" width="34.16" height="35.12" fill="#00bcff"/>
<rect x="974.25" y="1021.46" width="34.95" height="35.12" fill="#00acff"/>
<rect x="1008.6" y="1021.46" width="35.65" height="35.12" fill="#00acff"/>
<rect x="1043.65" y="1021.46" width="35.7" height="35.12" fill="#00d4ff"/>
<rect x="1078.75" y="1021.46" width="34.55" height="35.12" fill="#02e9f4"/>
<rect x="1112.7" y="1021.46" width="37.6" height="35.12" fill="#00d9ff"/>
<rect x="1149.7" y="1021.46" width="35.55" height="35.12" fill="#00c9ff"/>
<rect x="1184.65" y="1021.46" width="34.55" height="35.12" fill="#00b4ff"/>
<rect x="1218.6" y="1021.46" width="35.65" height="35.12" fill="#00a9ff"/>
<rect x="1253.65" y="1021.46" width="34.7" height="35.12" fill="#00a4ff"/>
<rect x="1287.75" y="1021.46" width="32.63" height="35.12" fill="#00a9ff"/>
<rect x="906.2" y="1055.98" width="35.09" height="35.12" fill="#caff2c"/>
<rect x="940.69" y="1055.98" width="34.16" height="35.12" fill="#e4ff13"/>
<rect x="974.25" y="1055.98" width="34.95" height="35.12" fill="#ceff29"/>
<rect x="1008.6" y="1055.98" width="35.65" height="35.12" fill="#caff2c"/>
<rect x="1043.65" y="1055.98" width="35.7" height="35.12" fill="#ceff29"/>
<rect x="1078.75" y="1055.98" width="34.55" height="35.12" fill="#ffe600"/>
<rect x="1112.7" y="1055.98" width="37.6" height="35.12" fill="#ffbd00"/>
<rect x="1149.7" y="1055.98" width="35.55" height="35.12" fill="#ffc800"/>
<rect x="1184.65" y="1055.98" width="34.55" height="35.12" fill="#f8f500"/>
<rect x="1218.6" y="1055.98" width="35.65" height="35.12" fill="#c4ff33"/>
<rect x="1253.65" y="1055.98" width="34.7" height="35.12" fill="#9aff5d"/>
<rect x="1287.75" y="1055.98" width="32.63" height="35.12" fill="#a4ff53"/>
<rect x="906.2" y="1090.5" width="35.09" height="35.12" fill="#13fce4"/>
<rect x="940.69" y="1090.5" width="34.16" height="35.12" fill="#0cf4eb"/>
<rect x="974.25" y="1090.5" width="34.95" height="35.12" fill="#0cf4eb"/>
<rect x="1008.6" y="1090.5" width="35.65" height="35.12" fill="#1cffdb"/>
<rect x="1043.65" y="1090.5" width="35.7" height="35.12" fill="#26ffd1"/>
<rect x="1078.75" y="1090.5" width="34.55" height="35.12" fill="#1fffd7"/>
<rect x="1112.7" y="1090.5" width="37.6" height="35.12" fill="#00d4ff"/>
<rect x="1149.7" y="1090.5" width="35.55" height="35.12" fill="#00c4ff"/>
<rect x="1184.65" y="1090.5" width="34.55" height="35.12" fill="#008cff"/>
<rect x="1218.6" y="1090.5" width="35.65" height="35.12" fill="#0084ff"/>
<rect x="1253.65" y="1090.5" width="34.7" height="35.12" fill="#00b0ff"/>
<rect x="1287.75" y="1090.5" width="32.63" height="35.12" fill="#09f0ee"/>
<rect x="906.2" y="1125.02" width="35.09" height="35.12" fill="#00e4f8"/>
<rect x="940.69" y="1125.02" width="34.16" height="35.12" fill="#00c4ff"/>
<rect x="974.25" y="1125.02" width="34.95" height="35.12" fill="#0065ff"/>
<rect x="1008.6" y="1125.02" width="35.65" height="35.12" fill="#0018ff"/>
<rect x="1043.65" y="1125.02" width="35.7" height="35.12" fill="#0005ff"/>
<rect x="1078.75" y="1125.02" width="34.55" height="35.12" fill="#0000fa"/>
<rect x="1112.7" y="1125.02" width="37.6" height="35.12" fill="#0000fa"/>
<rect x="1149.7" y="1125.02" width="35.55" height="35.12" fill="#0048ff"/>
<rect x="1184.65" y="1125.02" width="34.55" height="35.12" fill="#009cff"/>
<rect x="1218.6" y="1125.02" width="35.65" height="35.12" fill="#00ccff"/>
<rect x="1253.65" y="1125.02" width="34.7" height="35.12" fill="#09f0ee"/>
<rect x="1287.75" y="1125.02" width="32.63" height="35.12" fill="#0ff9e7"/>
<rect x="906.2" y="1159.54" width="35.09" height="35.12" fill="#caff2c"/>
<rect x="940.69" y="1159.54" width="34.16" height="35.12" fill="#9aff5d"/>
<rect x="974.25" y="1159.54" width="34.95" height="35.12" fill="#7aff7d"/>
<rect x="1008.6" y="1159.54" width="35.65" height="35.12" fill="#77ff80"/>
<rect x="1043.65" y="1159.54" width="35.7" height="35.12" fill="#77ff80"/>
<rect x="1078.75" y="1159.54" width="34.55" height="35.12" fill="#77ff80"/>
<rect x="1112.7" y="1159.54" width="37.6" height="35.12" fill="#70ff87"/>
<rect x="1149.7" y="1159.54" width="35.55" height="35.12" fill="#a0ff56"/>
<rect x="1184.65" y="1159.54" width="34.55" height="35.12" fill="#aaff4d"/>
<rect x="1218.6" y="1159.54" width="35.65" height="35.12" fill="#adff49"/>
<rect x="1253.65" y="1159.54" width="34.7" height="35.12" fill="#dbff1c"/>
<rect x="1287.75" y="1159.54" width="32.63" height="35.12" fill="#deff19"/>
<rect x="906.2" y="1194.06" width="35.09" height="35.12" fill="#39ffbe"/>
<rect x="940.69" y="1194.06" width="34.16" height="35.12" fill="#00d0ff"/>
<rect x="974.25" y="1194.06" width="34.95" height="35.12" fill="#00a4ff"/>
<rect x="1008.6" y="1194.06" width="35.65" height="35.12" fill="#0089ff"/>
<rect x="1043.65" y="1194.06" width="35.7" height="35.12" fill="#0068ff"/>
<rect x="1078.75" y="1194.06" width="34.55" height="35.12" fill="#0060ff"/>
<rect x="1112.7" y="1194.06" width="37.6" height="35.12" fill="#0089ff"/>
<rect x="1149.7" y="1194.06" width="35.55" height="35.12" fill="#00d0ff"/>
<rect x="1184.65" y="1194.06" width="34.55" height="35.12" fill="#26ffd1"/>
<rect x="1218.6" y="1194.06" width="35.65" height="35.12" fill="#63ff94"/>
<rect x="1253.65" y="1194.06" width="34.7" height="35.12" fill="#80ff77"/>
<rect x="1287.75" y="1194.06" width="32.63" height="35.12" fill="#73ff83"/>
<rect x="906.2" y="1228.58" width="35.09" height="35.12" fill="#ceff29"/>
<rect x="940.69" y="1228.58" width="34.16" height="35.12" fill="#9aff5d"/>
<rect x="974.25" y="1228.58" width="34.95" height="35.12" fill="#7dff7a"/>
<rect x="1008.6" y="1228.58" width="35.65" height="35.12" fill="#29ffce"/>
<rect x="1043.65" y="1228.58" width="35.7" height="35.12" fill="#00d4ff"/>
<rect x="1078.75" y="1228.58" width="34.55" height="35.12" fill="#00ccff"/>
<rect x="1112.7" y="1228.58" width="37.6" height="35.12" fill="#16ffe1"/>
<rect x="1149.7" y="1228.58" width="35.55" height="35.12" fill="#5dff9a"/>
<rect x="1184.65" y="1228.58" width="34.55" height="35.12" fill="#66ff90"/>
<rect x="1218.6" y="1228.58" width="35.65" height="35.12" fill="#87ff70"/>
<rect x="1253.65" y="1228.58" width="34.7" height="35.12" fill="#adff49"/>
<rect x="1287.75" y="1228.58" width="32.63" height="35.12" fill="#deff19"/>
<rect x="906.2" y="1263.1" width="35.09" height="35.12" fill="#00e0fb"/>
<rect x="940.69" y="1263.1" width="34.16" height="35.12" fill="#00acff"/>
<rect x="974.25" y="1263.1" width="34.95" height="35.12" fill="#00b4ff"/>
<rect x="1008.6" y="1263.1" width="35.65" height="35.12" fill="#0070ff"/>
<rect x="1043.65" y="1263.1" width="35.7" height="35.12" fill="#0008ff"/>
<rect x="1078.75" y="1263.1" width="34.55" height="35.12" fill="#0000ff"/>
<rect x="1112.7" y="1263.1" width="37.6" height="35.12" fill="#0065ff"/>
<rect x="1149.7" y="1263.1" width="35.55" height="35.12" fill="#00d9ff"/>
<rect x="1184.65" y="1263.1" width="34.55" height="35.12" fill="#06ecf1"/>
<rect x="1218.6" y="1263.1" width="35.65" height="35.12" fill="#00e0fb"/>
<rect x="1253.65" y="1263.1" width="34.7" height="35.12" fill="#0ff9e7"/>
<rect x="1287.75" y="1263.1" width="32.63" height="35.12" fill="#06ecf1"/>
<rect x="906.2" y="1297.62" width="35.09" height="35.12" fill="#00bcff"/>
<rect x="940.69" y="1297.62" width="34.16" height="35.12" fill="#00a0ff"/>
<rect x="974.25" y="1297.62" width="34.95" height="35.12" fill="#0084ff"/>
<rect x="1008.6" y="1297.62" width="35.65" height="35.12" fill="#0070ff"/>
<rect x="1043.65" y="1297.62" width="35.7" height="35.12" fill="#0075ff"/>
<rect x="1078.75" y="1297.62" width="34.55" height="35.12" fill="#0084ff"/>
<rect x="1112.7" y="1297.62" width="37.6" height="35.12" fill="#0080ff"/>
<rect x="1149.7" y="1297.62" width="35.55" height="35.12" fill="#008cff"/>
<rect x="1184.65" y="1297.62" width="34.55" height="35.12" fill="#008cff"/>
<rect x="1218.6" y="1297.62" width="35.65" height="35.12" fill="#0099ff"/>
<rect x="1253.65" y="1297.62" width="34.7" height="35.12" fill="#00acff"/>
<rect x="1287.75" y="1297.62" width="32.63" height="35.12" fill="#00ccff"/>
<rect x="906.2" y="1332.14" width="35.09" height="35.12" fill="#ceff29"/>
<rect x="940.69" y="1332.14" width="34.16" height="35.12" fill="#9aff5d"/>
<rect x="974.25" y="1332.14" width="34.95" height="35.12" fill="#66ff90"/>
<rect x="1008.6" y="1332.14" width="35.65" height="35.12" fill="#0cf4eb"/>
<rect x="1043.65" y="1332.14" width="35.7" height="35.12" fill="#0090ff"/>
<rect x="1078.75" y="1332.14" width="34.55" height="35.12" fill="#0089ff"/>
<rect x="1112.7" y="1332.14" width="37.6" height="35.12" fill="#00bcff"/>
<rect x="1149.7" y="1332.14" width="35.55" height="35.12" fill="#29ffce"/>
<rect x="1184.65" y="1332.14" width="34.55" height="35.12" fill="#39ffbe"/>
<rect x="1218.6" y="1332.14" width="35.65" height="35.12" fill="#4dffaa"/>
<rect x="1253.65" y="1332.14" width="34.7" height="35.12" fill="#8aff6d"/>
<rect x="1287.75" y="1332.14" width="32.63" height="35.12" fill="#c7ff30"/>
<rect x="906.2" y="1366.66" width="35.09" height="35.12" fill="#77ff80"/>
<rect x="940.69" y="1366.66" width="34.16" height="35.12" fill="#29ffce"/>
<rect x="974.25" y="1366.66" width="34.95" height="35.12" fill="#00dcfe"/>
<rect x="1008.6" y="1366.66" width="35.65" height="35.12" fill="#00b9ff"/>
<rect x="1043.65" y="1366.66" width="35.7" height="35.12" fill="#00b9ff"/>
<rect x="1078.75" y="1366.66" width="34.55" height="35.12" fill="#00dcfe"/>
<rect x="1112.7" y="1366.66" width="37.6" height="35.12" fill="#33ffc4"/>
<rect x="1149.7" y="1366.66" width="35.55" height="35.12" fill="#77ff80"/>
<rect x="1184.65" y="1366.66" width="34.55" height="35.12" fill="#9dff5a"/>
<rect x="1218.6" y="1366.66" width="35.65" height="35.12" fill="#9dff5a"/>
<rect x="1253.65" y="1366.66" width="34.7" height="35.12" fill="#97ff60"/>
<rect x="1287.75" y="1366.66" width="32.63" height="35.12" fill="#8aff6d"/>
<rect x="906.2" y="1401.18" width="35.09" height="35.12" fill="#00e4f8"/>
<rect x="940.69" y="1401.18" width="34.16" height="35.12" fill="#00c4ff"/>
<rect x="974.25" y="1401.18" width="34.95" height="35.12" fill="#00c9ff"/>
<rect x="1008.6" y="1401.18" width="35.65" height="35.12" fill="#00c9ff"/>
<rect x="1043.65" y="1401.18" width="35.7" height="35.12" fill="#00c4ff"/>
<rect x="1078.75" y="1401.18" width="34.55" height="35.12" fill="#00b4ff"/>
<rect x="1112.7" y="1401.18" width="37.6" height="35.12" fill="#0089ff"/>
<rect x="1149.7" y="1401.18" width="35.55" height="35.12" fill="#0094ff"/>
<rect x="1184.65" y="1401.18" width="34.55" height="35.12" fill="#00a4ff"/>
<rect x="1218.6" y="1401.18" width="35.65" height="35.12" fill="#00b9ff"/>
<rect x="1253.65" y="1401.18" width="34.7" height="35.12" fill="#00e0fb"/>
<rect x="1287.75" y="1401.18" width="32.63" height="35.12" fill="#1cffdb"/>
<rect x="906.2" y="1435.7" width="35.09" height="35.12" fill="#00c0ff"/>
<rect x="940.69" y="1435.7" width="34.16" height="35.12" fill="#00c4ff"/>
<rect x="974.25" y="1435.7" width="34.95" height="35.12" fill="#00c9ff"/>
<rect x="1008.6" y="1435.7" width="35.65" height="35.12" fill="#00c4ff"/>
<rect x="1043.65" y="1435.7" width="35.7" height="35.12" fill="#0094ff"/>
<rect x="1078.75" y="1435.7" width="34.55" height="35.12" fill="#0070ff"/>
<rect x="1112.7" y="1435.7" width="37.6" height="35.12" fill="#0055ff"/>
<rect x="1149.7" y="1435.7" width="35.55" height="35.12" fill="#0048ff"/>
<rect x="1184.65" y="1435.7" width="34.55" height="35.12" fill="#005dff"/>
<rect x="1218.6" y="1435.7" width="35.65" height="35.12" fill="#0080ff"/>
<rect x="1253.65" y="1435.7" width="34.7" height="35.12" fill="#0099ff"/>
<rect x="1287.75" y="1435.7" width="32.63" height="35.12" fill="#00b9ff"/>
<rect x="906.2" y="1470.22" width="35.09" height="35.12" fill="#ffb900"/>
<rect x="940.69" y="1470.22" width="34.16" height="35.12" fill="#ebff0c"/>
<rect x="974.25" y="1470.22" width="34.95" height="35.12" fill="#aaff4d"/>
<rect x="1008.6" y="1470.22" width="35.65" height="35.12" fill="#aaff4d"/>
<rect x="1043.65" y="1470.22" width="35.7" height="35.12" fill="#a0ff56"/>
<rect x="1078.75" y="1470.22" width="34.55" height="35.12" fill="#36ffc1"/>
<rect x="1112.7" y="1470.22" width="37.6" height="35.12" fill="#00dcfe"/>
<rect x="1149.7" y="1470.22" width="35.55" height="35.12" fill="#36ffc1"/>
<rect x="1184.65" y="1470.22" width="34.55" height="35.12" fill="#73ff83"/>
<rect x="1218.6" y="1470.22" width="35.65" height="35.12" fill="#aaff4d"/>
<rect x="1253.65" y="1470.22" width="34.7" height="35.12" fill="#dbff1c"/>
<rect x="1287.75" y="1470.22" width="32.63" height="35.12" fill="#ffcc00"/>
<rect x="906.2" y="1504.74" width="35.09" height="35.12" fill="#6aff8d"/>
<rect x="940.69" y="1504.74" width="34.16" height="35.12" fill="#49ffad"/>
<rect x="974.25" y="1504.74" width="34.95" height="35.12" fill="#13fce4"/>
<rect x="1008.6" y="1504.74" width="35.65" height="35.12" fill="#00d4ff"/>
<rect x="1043.65" y="1504.74" width="35.7" height="35.12" fill="#00b0ff"/>
<rect x="1078.75" y="1504.74" width="34.55" height="35.12" fill="#0094ff"/>
<rect x="1112.7" y="1504.74" width="37.6" height="35.12" fill="#0089ff"/>
<rect x="1149.7" y="1504.74" width="35.55" height="35.12" fill="#00c4ff"/>
<rect x="1184.65" y="1504.74" width="34.55" height="35.12" fill="#23ffd4"/>
<rect x="1218.6" y="1504.74" width="35.65" height="35.12" fill="#63ff94"/>
<rect x="1253.65" y="1504.74" width="34.7" height="35.12" fill="#94ff63"/>
<rect x="1287.75" y="1504.74" width="32.63" height="35.12" fill="#94ff63"/>
<rect x="906.2" y="1539.26" width="35.09" height="35.12" fill="#ff8d00"/>
<rect x="940.69" y="1539.26" width="34.16" height="35.12" fill="#ff8d00"/>
<rect x="974.25" y="1539.26" width="34.95" height="35.12" fill="#ff9c00"/>
<rect x="1008.6" y="1539.26" width="35.65" height="35.12" fill="#ffbd00"/>
<rect x="1043.65" y="1539.26" width="35.7" height="35.12" fill="#d4ff23"/>
<rect x="1078.75" y="1539.26" width="34.55" height="35.12" fill="#a7ff50"/>
<rect x="1112.7" y="1539.26" width="37.6" height="35.12" fill="#a7ff50"/>
<rect x="1149.7" y="1539.26" width="35.55" height="35.12" fill="#deff19"/>
<rect x="1184.65" y="1539.26" width="34.55" height="35.12" fill="#ffcc00"/>
<rect x="1218.6" y="1539.26" width="35.65" height="35.12" fill="#ff8d00"/>
<rect x="1253.65" y="1539.26" width="34.7" height="35.12" fill="#ff7e00"/>
<rect x="1287.75" y="1539.26" width="32.63" height="35.12" fill="#ff7a00"/>
<rect x="906.2" y="1573.78" width="35.09" height="35.12" fill="#49ffad"/>
<rect x="940.69" y="1573.78" width="34.16" height="35.12" fill="#53ffa4"/>
<rect x="974.25" y="1573.78" width="34.95" height="35.12" fill="#43ffb4"/>
<rect x="1008.6" y="1573.78" width="35.65" height="35.12" fill="#02e9f4"/>
<rect x="1043.65" y="1573.78" width="35.7" height="35.12" fill="#00b0ff"/>
<rect x="1078.75" y="1573.78" width="34.55" height="35.12" fill="#0099ff"/>
<rect x="1112.7" y="1573.78" width="37.6" height="35.12" fill="#007dff"/>
<rect x="1149.7" y="1573.78" width="35.55" height="35.12" fill="#007dff"/>
<rect x="1184.65" y="1573.78" width="34.55" height="35.12" fill="#0099ff"/>
<rect x="1218.6" y="1573.78" width="35.65" height="35.12" fill="#00c4ff"/>
<rect x="1253.65" y="1573.78" width="34.7" height="35.12" fill="#13fce4"/>
<rect x="1287.75" y="1573.78" width="32.63" height="35.12" fill="#39ffbe"/>
<rect x="906.2" y="1608.3" width="35.09" height="35.12" fill="#29ffce"/>
<rect x="940.69" y="1608.3" width="34.16" height="35.12" fill="#26ffd1"/>
<rect x="974.25" y="1608.3" width="34.95" height="35.12" fill="#00e0fb"/>
<rect x="1008.6" y="1608.3" width="35.65" height="35.12" fill="#0089ff"/>
<rect x="1043.65" y="1608.3" width="35.7" height="35.12" fill="#005dff"/>
<rect x="1078.75" y="1608.3" width="34.55" height="35.12" fill="#005dff"/>
<rect x="1112.7" y="1608.3" width="37.6" height="35.12" fill="#0060ff"/>
<rect x="1149.7" y="1608.3" width="35.55" height="35.12" fill="#00b4ff"/>
<rect x="1184.65" y="1608.3" width="34.55" height="35.12" fill="#00e4f8"/>
<rect x="1218.6" y="1608.3" width="35.65" height="35.12" fill="#02e9f4"/>
<rect x="1253.65" y="1608.3" width="34.7" height="35.12" fill="#00e4f8"/>
<rect x="1287.75" y="1608.3" width="32.63" height="35.12" fill="#26ffd1"/>
<rect x="906.2" y="1642.82" width="35.09" height="35.12" fill="#a7ff50"/>
<rect x="940.69" y="1642.82" width="34.16" height="35.12" fill="#70ff87"/>
<rect x="974.25" y="1642.82" width="34.95" height="35.12" fill="#33ffc4"/>
<rect x="1008.6" y="1642.82" width="35.65" height="35.12" fill="#0cf4eb"/>
<rect x="1043.65" y="1642.82" width="35.7" height="35.12" fill="#0cf4eb"/>
<rect x="1078.75" y="1642.82" width="34.55" height="35.12" fill="#0075ff"/>
<rect x="1112.7" y="1642.82" width="37.6" height="35.12" fill="#0099ff"/>
<rect x="1149.7" y="1642.82" width="35.55" height="35.12" fill="#00d4ff"/>
<rect x="1184.65" y="1642.82" width="34.55" height="35.12" fill="#33ffc4"/>
<rect x="1218.6" y="1642.82" width="35.65" height="35.12" fill="#46ffb1"/>
<rect x="1253.65" y="1642.82" width="34.7" height="35.12" fill="#7dff7a"/>
<rect x="1287.75" y="1642.82" width="32.63" height="35.12" fill="#b7ff40"/>
<rect x="906.2" y="1677.34" width="35.09" height="35.12" fill="#77ff80"/>
<rect x="940.69" y="1677.34" width="34.16" height="35.12" fill="#5aff9d"/>
<rect x="974.25" y="1677.34" width="34.95" height="35.12" fill="#33ffc4"/>
<rect x="1008.6" y="1677.34" width="35.65" height="35.12" fill="#00c9ff"/>
<rect x="1043.65" y="1677.34" width="35.7" height="35.12" fill="#0094ff"/>
<rect x="1078.75" y="1677.34" width="34.55" height="35.12" fill="#00b9ff"/>
<rect x="1112.7" y="1677.34" width="37.6" height="35.12" fill="#29ffce"/>
<rect x="1149.7" y="1677.34" width="35.55" height="35.12" fill="#7dff7a"/>
<rect x="1184.65" y="1677.34" width="34.55" height="35.12" fill="#adff49"/>
<rect x="1218.6" y="1677.34" width="35.65" height="35.12" fill="#9aff5d"/>
<rect x="1253.65" y="1677.34" width="34.7" height="35.12" fill="#8dff6a"/>
<rect x="1287.75" y="1677.34" width="32.63" height="35.12" fill="#83ff73"/>
<rect x="906.2" y="1711.86" width="35.09" height="35.12" fill="#36ffc1"/>
<rect x="940.69" y="1711.86" width="34.16" height="35.12" fill="#29ffce"/>
<rect x="974.25" y="1711.86" width="34.95" height="35.12" fill="#1fffd7"/>
<rect x="1008.6" y="1711.86" width="35.65" height="35.12" fill="#00b0ff"/>
<rect x="1043.65" y="1711.86" width="35.7" height="35.12" fill="#006dff"/>
<rect x="1078.75" y="1711.86" width="34.55" height="35.12" fill="#0050ff"/>
<rect x="1112.7" y="1711.86" width="37.6" height="35.12" fill="#0084ff"/>
<rect x="1149.7" y="1711.86" width="35.55" height="35.12" fill="#09f0ee"/>
<rect x="1184.65" y="1711.86" width="34.55" height="35.12" fill="#0cf4eb"/>
<rect x="1218.6" y="1711.86" width="35.65" height="35.12" fill="#02e9f4"/>
<rect x="1253.65" y="1711.86" width="34.7" height="35.12" fill="#16ffe1"/>
<rect x="1287.75" y="1711.86" width="32.63" height="35.12" fill="#33ffc4"/>
<rect x="906.2" y="1746.38" width="35.09" height="35.12" fill="#70ff87"/>
<rect x="940.69" y="1746.38" width="34.16" height="35.12" fill="#30ffc7"/>
<rect x="974.25" y="1746.38" width="34.95" height="35.12" fill="#1cffdb"/>
<rect x="1008.6" y="1746.38" width="35.65" height="35.12" fill="#13fce4"/>
<rect x="1043.65" y="1746.38" width="35.7" height="35.12" fill="#09f0ee"/>
<rect x="1078.75" y="1746.38" width="34.55" height="35.12" fill="#00dcfe"/>
<rect x="1112.7" y="1746.38" width="37.6" height="35.12" fill="#39ffbe"/>
<rect x="1149.7" y="1746.38" width="35.55" height="35.12" fill="#8dff6a"/>
<rect x="1184.65" y="1746.38" width="34.55" height="35.12" fill="#97ff60"/>
<rect x="1218.6" y="1746.38" width="35.65" height="35.12" fill="#b7ff40"/>
<rect x="1253.65" y="1746.38" width="34.7" height="35.12" fill="#beff39"/>
<rect x="1287.75" y="1746.38" width="32.63" height="35.12" fill="#97ff60"/>
<rect x="906.2" y="1780.9" width="35.09" height="35.12" fill="#9aff5d"/>
<rect x="940.69" y="1780.9" width="34.16" height="35.12" fill="#90ff66"/>
<rect x="974.25" y="1780.9" width="34.95" height="35.12" fill="#70ff87"/>
<rect x="1008.6" y="1780.9" width="35.65" height="35.12" fill="#63ff94"/>
<rect x="1043.65" y="1780.9" width="35.7" height="35.12" fill="#49ffad"/>
<rect x="1078.75" y="1780.9" width="34.55" height="35.12" fill="#00d9ff"/>
<rect x="1112.7" y="1780.9" width="37.6" height="35.12" fill="#00b4ff"/>
<rect x="1149.7" y="1780.9" width="35.55" height="35.12" fill="#00c4ff"/>
<rect x="1184.65" y="1780.9" width="34.55" height="35.12" fill="#09f0ee"/>
<rect x="1218.6" y="1780.9" width="35.65" height="35.12" fill="#30ffc7"/>
<rect x="1253.65" y="1780.9" width="34.7" height="35.12" fill="#49ffad"/>
<rect x="1287.75" y="1780.9" width="32.63" height="35.12" fill="#7dff7a"/>
<rect x="906.2" y="1815.42" width="35.09" height="35.12" fill="#9aff5d"/>
<rect x="940.69" y="1815.42" width="34.16" height="35.12" fill="#9dff5a"/>
<rect x="974.25" y="1815.42" width="34.95" height="35.12" fill="#9aff5d"/>
<rect x="1008.6" y="1815.42" width="35.65" height="35.12" fill="#3cffba"/>
<rect x="1043.65" y="1815.42" width="35.7" height="35.12" fill="#13fce4"/>
<rect x="1078.75" y="1815.42" width="34.55" height="35.12" fill="#1cffdb"/>
<rect x="1112.7" y="1815.42" width="37.6" height="35.12" fill="#1cffdb"/>
<rect x="1149.7" y="1815.42" width="35.55" height="35.12" fill="#33ffc4"/>
<rect x="1184.65" y="1815.42" width="34.55" height="35.12" fill="#53ffa4"/>
<rect x="1218.6" y="1815.42" width="35.65" height="35.12" fill="#70ff87"/>
<rect x="1253.65" y="1815.42" width="34.7" height="35.12" fill="#73ff83"/>
<rect x="1287.75" y="1815.42" width="32.63" height="35.12" fill="#94ff63"/>
<rect x="906.2" y="1849.94" width="35.09" height="35.12" fill="#ceff29"/>
<rect x="940.69" y="1849.94" width="34.16" height="35.12" fill="#90ff66"/>
<rect x="974.25" y="1849.94" width="34.95" height="35.12" fill="#39ffbe"/>
<rect x="1008.6" y="1849.94" width="35.65" height="35.12" fill="#00d9ff"/>
<rect x="1043.65" y="1849.94" width="35.7" height="35.12" fill="#00b9ff"/>
<rect x="1078.75" y="1849.94" width="34.55" height="35.12" fill="#0099ff"/>
<rect x="1112.7" y="1849.94" width="37.6" height="35.12" fill="#0cf4eb"/>
<rect x="1149.7" y="1849.94" width="35.55" height="35.12" fill="#50ffa7"/>
<rect x="1184.65" y="1849.94" width="34.55" height="35.12" fill="#73ff83"/>
<rect x="1218.6" y="1849.94" width="35.65" height="35.12" fill="#9aff5d"/>
<rect x="1253.65" y="1849.94" width="34.7" height="35.12" fill="#d4ff23"/>
<rect x="1287.75" y="1849.94" width="32.63" height="35.12" fill="#feed00"/>
<rect x="906.2" y="1884.46" width="35.09" height="35.12" fill="#ff9c00"/>
<rect x="940.69" y="1884.46" width="34.16" height="35.12" fill="#ff9c00"/>
<rect x="974.25" y="1884.46" width="34.95" height="35.12" fill="#ffab00"/>
<rect x="1008.6" y="1884.46" width="35.65" height="35.12" fill="#ffab00"/>
<rect x="1043.65" y="1884.46" width="35.7" height="35.12" fill="#ffbd00"/>
<rect x="1078.75" y="1884.46" width="34.55" height="35.12" fill="#ffd000"/>
<rect x="1112.7" y="1884.46" width="37.6" height="35.12" fill="#f1fc06"/>
<rect x="1149.7" y="1884.46" width="35.55" height="35.12" fill="#f1fc06"/>
<rect x="1184.65" y="1884.46" width="34.55" height="35.12" fill="#fbf100"/>
<rect x="1218.6" y="1884.46" width="35.65" height="35.12" fill="#ffcc00"/>
<rect x="1253.65" y="1884.46" width="34.7" height="35.12" fill="#ff8600"/>
<rect x="1287.75" y="1884.46" width="32.63" height="35.12" fill="#ff6800"/>
<rect x="906.2" y="1918.98" width="35.09" height="35.12" fill="#36ffc1"/>
<rect x="940.69" y="1918.98" width="34.16" height="35.12" fill="#00acff"/>
<rect x="974.25" y="1918.98" width="34.95" height="35.12" fill="#0078ff"/>
<rect x="1008.6" y="1918.98" width="35.65" height="35.12" fill="#0045ff"/>
<rect x="1043.65" y="1918.98" width="35.7" height="35.12" fill="#0000ff"/>
<rect x="1078.75" y="1918.98" width="34.55" height="35.12" fill="#0020ff"/>
<rect x="1112.7" y="1918.98" width="37.6" height="35.12" fill="#009cff"/>
<rect x="1149.7" y="1918.98" width="35.55" height="35.12" fill="#39ffbe"/>
<rect x="1184.65" y="1918.98" width="34.55" height="35.12" fill="#77ff80"/>
<rect x="1218.6" y="1918.98" width="35.65" height="35.12" fill="#77ff80"/>
<rect x="1253.65" y="1918.98" width="34.7" height="35.12" fill="#73ff83"/>
<rect x="1287.75" y="1918.98" width="32.63" height="35.12" fill="#77ff80"/>
<rect x="906.2" y="1953.5" width="35.09" height="35.12" fill="#36ffc1"/>
<rect x="940.69" y="1953.5" width="34.16" height="35.12" fill="#19ffde"/>
<rect x="974.25" y="1953.5" width="34.95" height="35.12" fill="#00c9ff"/>
<rect x="1008.6" y="1953.5" width="35.65" height="35.12" fill="#0099ff"/>
<rect x="1043.65" y="1953.5" width="35.7" height="35.12" fill="#0089ff"/>
<rect x="1078.75" y="1953.5" width="34.55" height="35.12" fill="#0060ff"/>
<rect x="1112.7" y="1953.5" width="37.6" height="35.12" fill="#003dff"/>
<rect x="1149.7" y="1953.5" width="35.55" height="35.12" fill="#0040ff"/>
<rect x="1184.65" y="1953.5" width="34.55" height="35.12" fill="#005dff"/>
<rect x="1218.6" y="1953.5" width="35.65" height="35.12" fill="#0089ff"/>
<rect x="1253.65" y="1953.5" width="34.7" height="35.12" fill="#00d0ff"/>
<rect x="1287.75" y="1953.5" width="32.63" height="35.12" fill="#29ffce"/>
<rect x="906.2" y="1988.02" width="35.09" height="35.12" fill="#66ff90"/>
<rect x="940.69" y="1988.02" width="34.16" height="35.12" fill="#16ffe1"/>
<rect x="974.25" y="1988.02" width="34.95" height="35.12" fill="#009cff"/>
<rect x="1008.6" y="1988.02" width="35.65" height="35.12" fill="#004dff"/>
<rect x="1043.65" y="1988.02" width="35.7" height="35.12" fill="#0000ff"/>
<rect x="1078.75" y="1988.02" width="34.55" height="35.12" fill="#0020ff"/>
<rect x="1112.7" y="1988.02" width="37.6" height="35.12" fill="#00a9ff"/>
<rect x="1149.7" y="1988.02" width="35.55" height="35.12" fill="#53ffa4"/>
<rect x="1184.65" y="1988.02" width="34.55" height="35.12" fill="#94ff63"/>
<rect x="1218.6" y="1988.02" width="35.65" height="35.12" fill="#90ff66"/>
<rect x="1253.65" y="1988.02" width="34.7" height="35.12" fill="#9aff5d"/>
<rect x="1287.75" y="1988.02" width="32.63" height="35.12" fill="#b7ff40"/>
<rect x="906.2" y="2022.54" width="35.09" height="35.12" fill="#36ffc1"/>
<rect x="940.69" y="2022.54" width="34.16" height="35.12" fill="#13fce4"/>
<rect x="974.25" y="2022.54" width="34.95" height="35.12" fill="#00e0fb"/>
<rect x="1008.6" y="2022.54" width="35.65" height="35.12" fill="#00d9ff"/>
<rect x="1043.65" y="2022.54" width="35.7" height="35.12" fill="#00d4ff"/>
<rect x="1078.75" y="2022.54" width="34.55" height="35.12" fill="#02e9f4"/>
<rect x="1112.7" y="2022.54" width="37.6" height="35.12" fill="#00d9ff"/>
<rect x="1149.7" y="2022.54" width="35.55" height="35.12" fill="#00d4ff"/>
<rect x="1184.65" y="2022.54" width="34.55" height="35.12" fill="#00b4ff"/>
<rect x="1218.6" y="2022.54" width="35.65" height="35.12" fill="#00bcff"/>
<rect x="1253.65" y="2022.54" width="34.7" height="35.12" fill="#1cffdb"/>
<rect x="1287.75" y="2022.54" width="32.63" height="35.12" fill="#3cffba"/>
<rect x="906.2" y="2057.06" width="35.09" height="35.12" fill="#ffdb00"/>
<rect x="940.69" y="2057.06" width="34.16" height="35.12" fill="#d4ff23"/>
<rect x="974.25" y="2057.06" width="34.95" height="35.12" fill="#80ff77"/>
<rect x="1008.6" y="2057.06" width="35.65" height="35.12" fill="#63ff94"/>
<rect x="1043.65" y="2057.06" width="35.7" height="35.12" fill="#5aff9d"/>
<rect x="1078.75" y="2057.06" width="34.55" height="35.12" fill="#29ffce"/>
<rect x="1112.7" y="2057.06" width="37.6" height="35.12" fill="#00e4f8"/>
<rect x="1149.7" y="2057.06" width="35.55" height="35.12" fill="#1fffd7"/>
<rect x="1184.65" y="2057.06" width="34.55" height="35.12" fill="#50ffa7"/>
<rect x="1218.6" y="2057.06" width="35.65" height="35.12" fill="#a0ff56"/>
<rect x="1253.65" y="2057.06" width="34.7" height="35.12" fill="#deff19"/>
<rect x="1287.75" y="2057.06" width="32.63" height="35.12" fill="#ffe600"/>
<rect x="906.2" y="2091.58" width="35.09" height="35.12" fill="#aaff4d"/>
<rect x="940.69" y="2091.58" width="34.16" height="35.12" fill="#87ff70"/>
<rect x="974.25" y="2091.58" width="34.95" height="35.12" fill="#33ffc4"/>
<rect x="1008.6" y="2091.58" width="35.65" height="35.12" fill="#00b0ff"/>
<rect x="1043.65" y="2091.58" width="35.7" height="35.12" fill="#00a0ff"/>
<rect x="1078.75" y="2091.58" width="34.55" height="35.12" fill="#00a9ff"/>
<rect x="1112.7" y="2091.58" width="37.6" height="35.12" fill="#00acff"/>
<rect x="1149.7" y="2091.58" width="35.55" height="35.12" fill="#00b0ff"/>
<rect x="1184.65" y="2091.58" width="34.55" height="35.12" fill="#00e4f8"/>
<rect x="1218.6" y="2091.58" width="35.65" height="35.12" fill="#3cffba"/>
<rect x="1253.65" y="2091.58" width="34.7" height="35.12" fill="#6dff8a"/>
<rect x="1287.75" y="2091.58" width="32.63" height="35.12" fill="#9aff5d"/>
<rect x="906.2" y="2126.1" width="35.09" height="35.12" fill="#0094ff"/>
<rect x="940.69" y="2126.1" width="34.16" height="35.12" fill="#0080ff"/>
<rect x="974.25" y="2126.1" width="34.95" height="35.12" fill="#0080ff"/>
<rect x="1008.6" y="2126.1" width="35.65" height="35.12" fill="#008cff"/>
<rect x="1043.65" y="2126.1" width="35.7" height="35.12" fill="#007dff"/>
<rect x="1078.75" y="2126.1" width="34.55" height="35.12" fill="#0078ff"/>
<rect x="1112.7" y="2126.1" width="37.6" height="35.12" fill="#0070ff"/>
<rect x="1149.7" y="2126.1" width="35.55" height="35.12" fill="#0055ff"/>
<rect x="1184.65" y="2126.1" width="34.55" height="35.12" fill="#003dff"/>
<rect x="1218.6" y="2126.1" width="35.65" height="35.12" fill="#0060ff"/>
<rect x="1253.65" y="2126.1" width="34.7" height="35.12" fill="#0094ff"/>
<rect x="1287.75" y="2126.1" width="32.63" height="35.12" fill="#00a0ff"/>
<rect x="906.2" y="2160.62" width="35.09" height="35.12" fill="#ffae00"/>
<rect x="940.69" y="2160.62" width="34.16" height="35.12" fill="#e7ff0f"/>
<rect x="974.25" y="2160.62" width="34.95" height="35.12" fill="#8aff6d"/>
<rect x="1008.6" y="2160.62" width="35.65" height="35.12" fill="#3cffba"/>
<rect x="1043.65" y="2160.62" width="35.7" height="35.12" fill="#1cffdb"/>
<rect x="1078.75" y="2160.62" width="34.55" height="35.12" fill="#06ecf1"/>
<rect x="1112.7" y="2160.62" width="37.6" height="35.12" fill="#06ecf1"/>
<rect x="1149.7" y="2160.62" width="35.55" height="35.12" fill="#33ffc4"/>
<rect x="1184.65" y="2160.62" width="34.55" height="35.12" fill="#70ff87"/>
<rect x="1218.6" y="2160.62" width="35.65" height="35.12" fill="#c7ff30"/>
<rect x="1253.65" y="2160.62" width="34.7" height="35.12" fill="#ffdb00"/>
<rect x="1287.75" y="2160.62" width="32.63" height="35.12" fill="#ffb600"/>
<rect x="906.2" y="2195.14" width="35.09" height="35.12" fill="#b1ff46"/>
<rect x="940.69" y="2195.14" width="34.16" height="35.12" fill="#77ff80"/>
<rect x="974.25" y="2195.14" width="34.95" height="35.12" fill="#30ffc7"/>
<rect x="1008.6" y="2195.14" width="35.65" height="35.12" fill="#09f0ee"/>
<rect x="1043.65" y="2195.14" width="35.7" height="35.12" fill="#19ffde"/>
<rect x="1078.75" y="2195.14" width="34.55" height="35.12" fill="#40ffb7"/>
<rect x="1112.7" y="2195.14" width="37.6" height="35.12" fill="#49ffad"/>
<rect x="1149.7" y="2195.14" width="35.55" height="35.12" fill="#6aff8d"/>
<rect x="1184.65" y="2195.14" width="34.55" height="35.12" fill="#60ff97"/>
<rect x="1218.6" y="2195.14" width="35.65" height="35.12" fill="#9aff5d"/>
<rect x="1253.65" y="2195.14" width="34.7" height="35.12" fill="#b1ff46"/>
<rect x="1287.75" y="2195.14" width="32.63" height="35.12" fill="#d4ff23"/>
<rect x="906.2" y="2229.66" width="35.09" height="35.12" fill="#ffd700"/>
<rect x="940.69" y="2229.66" width="34.16" height="35.12" fill="#ffcc00"/>
<rect x="974.25" y="2229.66" width="34.95" height="35.12" fill="#feed00"/>
<rect x="1008.6" y="2229.66" width="35.65" height="35.12" fill="#caff2c"/>
<rect x="1043.65" y="2229.66" width="35.7" height="35.12" fill="#caff2c"/>
<rect x="1078.75" y="2229.66" width="34.55" height="35.12" fill="#ebff0c"/>
<rect x="1112.7" y="2229.66" width="37.6" height="35.12" fill="#ffbd00"/>
<rect x="1149.7" y="2229.66" width="35.55" height="35.12" fill="#ffcc00"/>
<rect x="1184.65" y="2229.66" width="34.55" height="35.12" fill="#f1fc06"/>
<rect x="1218.6" y="2229.66" width="35.65" height="35.12" fill="#ffe200"/>
<rect x="1253.65" y="2229.66" width="34.7" height="35.12" fill="#ffab00"/>
<rect x="1287.75" y="2229.66" width="32.63" height="35.12" fill="#ffae00"/>
<rect x="906.2" y="2264.18" width="35.09" height="35.12" fill="#ff4a00"/>
<rect x="940.69" y="2264.18" width="34.16" height="35.12" fill="#ff6800"/>
<rect x="974.25" y="2264.18" width="34.95" height="35.12" fill="#ffae00"/>
<rect x="1008.6" y="2264.18" width="35.65" height="35.12" fill="#feed00"/>
<rect x="1043.65" y="2264.18" width="35.7" height="35.12" fill="#d1ff26"/>
<rect x="1078.75" y="2264.18" width="34.55" height="35.12" fill="#d1ff26"/>
<rect x="1112.7" y="2264.18" width="37.6" height="35.12" fill="#d1ff26"/>
<rect x="1149.7" y="2264.18" width="35.55" height="35.12" fill="#ffe200"/>
<rect x="1184.65" y="2264.18" width="34.55" height="35.12" fill="#ffb200"/>
<rect x="1218.6" y="2264.18" width="35.65" height="35.12" fill="#ff9800"/>
<rect x="1253.65" y="2264.18" width="34.7" height="35.12" fill="#ff8900"/>
<rect x="1287.75" y="2264.18" width="32.63" height="35.12" fill="#ff6c00"/>
<rect x="906.2" y="2298.7" width="35.09" height="35.12" fill="#ffde00"/>
<rect x="940.69" y="2298.7" width="34.16" height="35.12" fill="#ffc400"/>
<rect x="974.25" y="2298.7" width="34.95" height="35.12" fill="#ffea00"/>
<rect x="1008.6" y="2298.7" width="35.65" height="35.12" fill="#d1ff26"/>
<rect x="1043.65" y="2298.7" width="35.7" height="35.12" fill="#beff39"/>
<rect x="1078.75" y="2298.7" width="34.55" height="35.12" fill="#b4ff43"/>
<rect x="1112.7" y="2298.7" width="37.6" height="35.12" fill="#b4ff43"/>
<rect x="1149.7" y="2298.7" width="35.55" height="35.12" fill="#a7ff50"/>
<rect x="1184.65" y="2298.7" width="34.55" height="35.12" fill="#94ff63"/>
<rect x="1218.6" y="2298.7" width="35.65" height="35.12" fill="#a7ff50"/>
<rect x="1253.65" y="2298.7" width="34.7" height="35.12" fill="#dbff1c"/>
<rect x="1287.75" y="2298.7" width="32.63" height="35.12" fill="#ffe200"/>
<rect x="906.2" y="2333.22" width="35.09" height="35.12" fill="#ff2500"/>
<rect x="940.69" y="2333.22" width="34.16" height="35.12" fill="#ff7a00"/>
<rect x="974.25" y="2333.22" width="34.95" height="35.12" fill="#ebff0c"/>
<rect x="1008.6" y="2333.22" width="35.65" height="35.12" fill="#87ff70"/>
<rect x="1043.65" y="2333.22" width="35.7" height="35.12" fill="#73ff83"/>
<rect x="1078.75" y="2333.22" width="34.55" height="35.12" fill="#87ff70"/>
<rect x="1112.7" y="2333.22" width="37.6" height="35.12" fill="#a7ff50"/>
<rect x="1149.7" y="2333.22" width="35.55" height="35.12" fill="#e1ff16"/>
<rect x="1184.65" y="2333.22" width="34.55" height="35.12" fill="#ffd300"/>
<rect x="1218.6" y="2333.22" width="35.65" height="35.12" fill="#ff9800"/>
<rect x="1253.65" y="2333.22" width="34.7" height="35.12" fill="#ff6f00"/>
<rect x="1287.75" y="2333.22" width="32.63" height="35.12" fill="#ff3f00"/>
<rect x="906.2" y="2367.74" width="35.09" height="35.12" fill="#800000"/>
<rect x="940.69" y="2367.74" width="34.16" height="35.12" fill="#ff1600"/>
<rect x="974.25" y="2367.74" width="34.95" height="35.12" fill="#ffe200"/>
<rect x="1008.6" y="2367.74" width="35.65" height="35.12" fill="#87ff70"/>
<rect x="1043.65" y="2367.74" width="35.7" height="35.12" fill="#66ff90"/>
<rect x="1078.75" y="2367.74" width="34.55" height="35.12" fill="#87ff70"/>
<rect x="1112.7" y="2367.74" width="37.6" height="35.12" fill="#feed00"/>
<rect x="1149.7" y="2367.74" width="35.55" height="35.12" fill="#ff8900"/>
<rect x="1184.65" y="2367.74" width="34.55" height="35.12" fill="#ff6000"/>
<rect x="1218.6" y="2367.74" width="35.65" height="35.12" fill="#ff1600"/>
<rect x="1253.65" y="2367.74" width="34.7" height="35.12" fill="#b10000"/>
<rect x="1287.75" y="2367.74" width="32.63" height="35.12" fill="#800000"/>
</g>
<path class="ln" d="M904.2 89.42H1321.88M904.2 123.94H1321.88M904.2 158.46H1321.88M904.2 192.98H1321.88M904.2 227.5H1321.88M904.2 262.02H1321.88M904.2 296.54H1321.88M904.2 331.06H1321.88M904.2 365.58H1321.88M904.2 400.1H1321.88M904.2 434.62H1321.88M904.2 469.14H1321.88M904.2 503.66H1321.88M904.2 538.18H1321.88M904.2 572.7H1321.88M904.2 607.22H1321.88M904.2 641.74H1321.88M904.2 676.26H1321.88M904.2 710.78H1321.88M904.2 745.3H1321.88M904.2 779.82H1321.88M904.2 814.34H1321.88M904.2 848.86H1321.88M904.2 883.38H1321.88M904.2 917.9H1321.88M904.2 952.42H1321.88M904.2 986.94H1321.88M904.2 1021.46H1321.88M904.2 1055.98H1321.88M904.2 1090.5H1321.88M904.2 1125.02H1321.88M904.2 1159.54H1321.88M904.2 1194.06H1321.88M904.2 1228.58H1321.88M904.2 1263.1H1321.88M904.2 1297.62H1321.88M904.2 1332.14H1321.88M904.2 1366.66H1321.88M904.2 1401.18H1321.88M904.2 1435.7H1321.88M904.2 1470.22H1321.88M904.2 1504.74H1321.88M904.2 1539.26H1321.88M904.2 1573.78H1321.88M904.2 1608.3H1321.88M904.2 1642.82H1321.88M904.2 1677.34H1321.88M904.2 1711.86H1321.88M904.2 1746.38H1321.88M904.2 1780.9H1321.88M904.2 1815.42H1321.88M904.2 1849.94H1321.88M904.2 1884.46H1321.88M904.2 1918.98H1321.88M904.2 1953.5H1321.88M904.2 1988.02H1321.88M904.2 2022.54H1321.88M904.2 2057.06H1321.88M904.2 2091.58H1321.88M904.2 2126.1H1321.88M904.2 2160.62H1321.88M904.2 2195.14H1321.88M904.2 2229.66H1321.88M904.2 2264.18H1321.88M904.2 2298.7H1321.88M904.2 2333.22H1321.88M904.2 2367.74H1321.88"/>
<path class="ln" d="M923.46 2402.26V2415.86M957.97 2402.26V2415.86M992.49 2402.26V2415.86M1027 2402.26V2415.86M1061.52 2402.26V2415.86M1096.03 2402.26V2415.86M1130.55 2402.26V2415.86M1165.06 2402.26V2415.86M1199.58 2402.26V2415.86M1234.09 2402.26V2415.86M1268.61 2402.26V2415.86M1303.12 2402.26V2415.86"/>
<rect class="sp" x="906.2" y="54.9" width="414.18" height="2347.36"/>
<text class="t m" x="923.46" y="2451">J</text>
<text class="t m" x="957.97" y="2451">F</text>
<text class="t m" x="992.49" y="2451">M</text>
<text class="t m" x="1027" y="2451">A</text>
<text class="t m" x="1061.52" y="2451">M</text>
<text class="t m" x="1096.03" y="2451">J</text>
<text class="t m" x="1130.55" y="2451">J</text>
<text class="t m" x="1165.06" y="2451">A</text>
<text class="t m" x="1199.58" y="2451">S</text>
<text class="t m" x="1234.09" y="2451">O</text>
<text class="t m" x="1268.61" y="2451">N</text>
<text class="t m" x="1303.12" y="2451">D</text>
<text class="ti" x="1113.29" y="32.5">(b) Nino3.4</text>
<text class="t l" x="63.6" y="80.6">0.24</text>
<text class="t m o" x="717.1" y="83.06">INM-CM5-0</text>
<text class="t r" x="1337.4" y="82.91">0.46</text>
<text class="t l" x="63.6" y="115.12">0.24</text>
<text class="t m o" x="717.1" y="117.58">INM-CM4-8</text>
<text class="t r" x="1337.4" y="117.43">0.42</text>
<text class="t l" x="63.6" y="149.64">0.29</text>
<text class="t m b" x="717.1" y="152.1">GISS-E2-R</text>
<text class="t r" x="1337.4" y="151.95">0.58</text>
<text class="t l" x="63.6" y="184.16">0.30</text>
<text class="t m b" x="717.1" y="186.62">GISS-E2-R-CC</text>
<text class="t r" x="1337.4" y="186.47">0.54</text>
<text class="t l" x="63.6" y="218.68">0.32</text>
<text class="t m b" x="717.1" y="221.14">GISS-E2-H</text>
<text class="t r" x="1337.4" y="220.99">0.56</text>
<text class="t l" x="63.6" y="253.2">0.32</text>
<text class="t m b" x="717.1" y="255.66">GISS-E2-H-CC</text>
<text class="t r" x="1337.4" y="255.51">0.77</text>
<text class="t l" x="63.6" y="287.72">0.32</text>
<text class="t m k" x="717.1" y="290.18">HadISST</text>
<text class="t r" x="1337.4" y="290.03">0.82</text>
<text class="t l" x="63.6" y="322.24">0.36</text>
<text class="t m b" x="717.1" y="324.7">MRI-CGCM3</text>
<text class="t r" x="1337.4" y="324.55">0.61</text>
<text class="t l" x="63.6" y="356.76">0.37</text>
<text class="t m o" x="717.1" y="359.22">CanESM5</text>
<text class="t r" x="1337.4" y="359.07">0.72</text>
<text class="t l" x="63.6" y="391.28">0.37</text>
<text class="t m b" x="717.1" y="393.74">MRI-ESM1</text>
<text class="t r" x="1337.4" y="393.59">0.57</text>
<text class="t l" x="63.6" y="425.8">0.38</text>
<text class="t m o" x="717.1" y="428.26">ACCESS-CM2</text>
<text class="t r" x="1337.4" y="428.11">0.79</text>
<text class="t l" x="63.6" y="460.32">0.38</text>
<text class="t m b" x="717.1" y="462.78">MIROC-ESM-CHEM</text>
<text class="t r" x="1337.4" y="462.63">0.50</text>
<text class="t l" x="63.6" y="494.84">0.38</text>
<text class="t m b" x="717.1" y="497.3">MIROC-ESM</text>
<text class="t r" x="1337.4" y="497.15">0.44</text>
<text class="t l" x="63.6" y="529.36">0.40</text>
<text class="t m b" x="717.1" y="531.82">inmcm4</text>
<text class="t r" x="1337.4" y="531.67">0.61</text>
<text class="t l" x="63.6" y="563.88">0.41</text>
<text class="t m o" x="717.1" y="566.34">IPSL-CM6A-LR</text>
<text class="t r" x="1337.4" y="566.19">0.94</text>
<text class="t l" x="63.6" y="598.4">0.41</text>
<text class="t m k" x="717.1" y="600.86">NOAA_ERSSTV5</text>
<text class="t r" x="1337.4" y="600.71">0.85</text>
<text class="t l" x="63.6" y="632.92">0.42</text>
<text class="t m b" x="717.1" y="635.38">IPSL-CM5B-LR</text>
<text class="t r" x="1337.4" y="635.23">0.71</text>
<text class="t l" x="63.6" y="667.44">0.43</text>
<text class="t m o" x="717.1" y="669.9">GISS-E2-1-H</text>
<text class="t r" x="1337.4" y="669.75">1.03</text>
<text class="t l" x="63.6" y="701.96">0.43</text>
<text class="t m b" x="717.1" y="704.42">GFDL-ESM2G</text>
<text class="t r" x="1337.4" y="704.27">0.71</text>
<text class="t l" x="63.6" y="736.48">0.43</text>
<text class="t m o" x="717.1" y="738.94">MCM-UA-1-0</text>
<text class="t r" x="1337.4" y="738.79">0.77</text>
<text class="t l" x="63.6" y="771">0.44</text>
<text class="t m b" x="717.1" y="773.46">IPSL-CM5A-LR</text>
<text class="t r" x="1337.4" y="773.31">0.70</text>
<text class="t l" x="63.6" y="805.52">0.45</text>
<text class="t m b" x="717.1" y="807.98">HadCM3</text>
<text class="t r" x="1337.4" y="807.83">0.94</text>
<text class="t l" x="63.6" y="840.04">0.45</text>
<text class="t m o" x="717.1" y="842.5">CNRM-CM6-1-HR</text>
<text class="t r" x="1337.4" y="842.35">0.54</text>
<text class="t l" x="63.6" y="874.56">0.47</text>
<text class="t m o" x="717.1" y="877.02">MIROC-ES2L</text>
<text class="t r" x="1337.4" y="876.87">1.43</text>
<text class="t l" x="63.6" y="909.08">0.48</text>
<text class="t m o" x="717.1" y="911.54">BCC-ESM1</text>
<text class="t r" x="1337.4" y="911.39">0.85</text>
<text class="t l" x="63.6" y="943.6">0.48</text>
<text class="t m o" x="717.1" y="946.06">GISS-E2-1-G</text>
<text class="t r" x="1337.4" y="945.91">1.36</text>
<text class="t l" x="63.6" y="978.12">0.49</text>
<text class="t m o" x="717.1" y="980.58">NESM3</text>
<text class="t r" x="1337.4" y="980.43">0.76</text>
<text class="t l" x="63.6" y="1012.64">0.49</text>
<text class="t m b" x="717.1" y="1015.1">MPI-ESM-P</text>
<text class="t r" x="1337.4" y="1014.95">0.82</text>
<text class="t l" x="63.6" y="1047.16">0.49</text>
<text class="t m b" x="717.1" y="1049.62">IPSL-CM5A-MR</text>
<text class="t r" x="1337.4" y="1049.47">0.77</text>
<text class="t l" x="63.6" y="1081.68">0.49</text>
<text class="t m o" x="717.1" y="1084.14">GISS-E2-1-G-CC</text>
<text class="t r" x="1337.4" y="1083.99">1.33</text>
<text class="t l" x="63.6" y="1116.2">0.50</text>
<text class="t m o" x="717.1" y="1118.66">MPI-ESM1-2-HR</text>
<text class="t r" x="1337.4" y="1118.51">0.83</text>
<text class="t l" x="63.6" y="1150.72">0.50</text>
<text class="t m b" x="717.1" y="1153.18">ACCESS1-0</text>
<text class="t r" x="1337.4" y="1153.03">0.67</text>
<text class="t l" x="63.6" y="1185.24">0.50</text>
<text class="t m b" x="717.1" y="1187.7">MIROC5</text>
<text class="t r" x="1337.4" y="1187.55">1.19</text>
<text class="t l" x="63.6" y="1219.76">0.51</text>
<text class="t m o" x="717.1" y="1222.22">GFDL-CM4</text>
<text class="t r" x="1337.4" y="1222.07">0.86</text>
<text class="t l" x="63.6" y="1254.28">0.51</text>
<text class="t m o" x="717.1" y="1256.74">UKESM1-0-LL</text>
<text class="t r" x="1337.4" y="1256.59">1.08</text>
<text class="t l" x="63.6" y="1288.8">0.51</text>
<text class="t m b" x="717.1" y="1291.26">HadGEM2-AO</text>
<text class="t r" x="1337.4" y="1291.11">0.74</text>
<text class="t l" x="63.6" y="1323.32">0.52</text>
<text class="t m b" x="717.1" y="1325.78">CMCC-CM</text>
<text class="t r" x="1337.4" y="1325.63">0.70</text>
<text class="t l" x="63.6" y="1357.84">0.53</text>
<text class="t m b" x="717.1" y="1360.3">CanESM2</text>
<text class="t r" x="1337.4" y="1360.15">1.01</text>
<text class="t l" x="63.6" y="1392.36">0.54</text>
<text class="t m o" x="717.1" y="1394.82">BCC-CSM2-MR</text>
<text class="t r" x="1337.4" y="1394.67">1.01</text>
<text class="t l" x="63.6" y="1426.88">0.54</text>
<text class="t m b" x="717.1" y="1429.34">MPI-ESM-LR</text>
<text class="t r" x="1337.4" y="1429.19">0.78</text>
<text class="t l" x="63.6" y="1461.4">0.54</text>
<text class="t m b" x="717.1" y="1463.86">ACCESS1-3</text>
<text class="t r" x="1337.4" y="1463.71">0.70</text>
<text class="t l" x="63.6" y="1495.92">0.54</text>
<text class="t m o" x="717.1" y="1498.38">CAMS-CSM1-0</text>
<text class="t r" x="1337.4" y="1498.23">1.21</text>
<text class="t l" x="63.6" y="1530.44">0.55</text>
<text class="t m o" x="717.1" y="1532.9">GFDL-ESM4</text>
<text class="t r" x="1337.4" y="1532.75">0.93</text>
<text class="t l" x="63.6" y="1564.96">0.56</text>
<text class="t m o" x="717.1" y="1567.42">NorESM2-LM</text>
<text class="t r" x="1337.4" y="1567.27">1.47</text>
<text class="t l" x="63.6" y="1599.48">0.57</text>
<text class="t m o" x="717.1" y="1601.94">ACCESS-ESM1-5</text>
<text class="t r" x="1337.4" y="1601.79">0.84</text>
<text class="t l" x="63.6" y="1634">0.59</text>
<text class="t m b" x="717.1" y="1636.46">HadGEM2-CC</text>
<text class="t r" x="1337.4" y="1636.31">0.79</text>
<text class="t l" x="63.6" y="1668.52">0.60</text>
<text class="t m o" x="717.1" y="1670.98">CNRM-CM6-1</text>
<text class="t r" x="1337.4" y="1670.83">0.97</text>
<text class="t l" x="63.6" y="1703.04">0.60</text>
<text class="t m o" x="717.1" y="1705.5">NorCPM1</text>
<text class="t r" x="1337.4" y="1705.35">1.02</text>
<text class="t l" x="63.6" y="1737.56">0.61</text>
<text class="t m b" x="717.1" y="1740.02">HadGEM2-ES</text>
<text class="t r" x="1337.4" y="1739.87">0.83</text>
<text class="t l" x="63.6" y="1772.08">0.62</text>
<text class="t m o" x="717.1" y="1774.54">MIROC6</text>
<text class="t r" x="1337.4" y="1774.39">1.05</text>
<text class="t l" x="63.6" y="1806.6">0.62</text>
<text class="t m o" x="717.1" y="1809.06">MRI-ESM2-0</text>
<text class="t r" x="1337.4" y="1808.91">0.99</text>
<text class="t l" x="63.6" y="1841.12">0.62</text>
<text class="t m b" x="717.1" y="1843.58">GFDL-CM3</text>
<text class="t r" x="1337.4" y="1843.43">1.05</text>
<text class="t l" x="63.6" y="1875.64">0.63</text>
<text class="t m o" x="717.1" y="1878.1">CNRM-ESM2-1</text>
<text class="t r" x="1337.4" y="1877.95">1.07</text>
<text class="t l" x="63.6" y="1910.16">0.64</text>
<text class="t m b" x="717.1" y="1912.62">CMCC-CESM</text>
<text class="t r" x="1337.4" y="1912.47">1.50</text>
<text class="t l" x="63.6" y="1944.68">0.64</text>
<text class="t m b" x="717.1" y="1947.14">CNRM-CM5-2</text>
<text class="t r" x="1337.4" y="1946.99">0.86</text>
<text class="t l" x="63.6" y="1979.2">0.66</text>
<text class="t m o" x="717.1" y="1981.66">EC-Earth3-Veg</text>
<text class="t r" x="1337.4" y="1981.51">0.74</text>
<text class="t l" x="63.6" y="2013.72">0.67</text>
<text class="t m b" x="717.1" y="2016.18">CNRM-CM5</text>
<text class="t r" x="1337.4" y="2016.03">0.93</text>
<text class="t l" x="63.6" y="2048.24">0.68</text>
<text class="t m b" x="717.1" y="2050.7">CMCC-CMS</text>
<text class="t r" x="1337.4" y="2050.55">0.85</text>
<text class="t l" x="63.6" y="2082.76">0.69</text>
<text class="t m o" x="717.1" y="2085.22">CESM2-WACCM</text>
<text class="t r" x="1337.4" y="2085.07">1.15</text>
<text class="t l" x="63.6" y="2117.28">0.69</text>
<text class="t m o" x="717.1" y="2119.74">SAM0-UNICON</text>
<text class="t r" x="1337.4" y="2119.59">0.94</text>
<text class="t l" x="63.6" y="2151.8">0.69</text>
<text class="t m b" x="717.1" y="2154.26">MPI-ESM-MR</text>
<text class="t r" x="1337.4" y="2154.11">0.65</text>
<text class="t l" x="63.6" y="2186.32">0.70</text>
<text class="t m o" x="717.1" y="2188.78">CESM2</text>
<text class="t r" x="1337.4" y="2188.63">1.18</text>
<text class="t l" x="63.6" y="2220.84">0.71</text>
<text class="t m o" x="717.1" y="2223.3">E3SM-1-0</text>
<text class="t r" x="1337.4" y="2223.15">1.08</text>
<text class="t l" x="63.6" y="2255.36">0.76</text>
<text class="t m b" x="717.1" y="2257.82">GFDL-CM2p1</text>
<text class="t r" x="1337.4" y="2257.67">1.42</text>
<text class="t l" x="63.6" y="2289.88">0.80</text>
<text class="t m o" x="717.1" y="2292.34">FGOALS-f3-L</text>
<text class="t r" x="1337.4" y="2292.19">1.50</text>
<text class="t l" x="63.6" y="2324.4">0.81</text>
<text class="t m b" x="717.1" y="2326.86">GFDL-ESM2M</text>
<text class="t r" x="1337.4" y="2326.71">1.31</text>
<text class="t l" x="63.6" y="2358.92">0.91</text>
<text class="t m o" x="717.1" y="2361.38">CESM2-WACCM-FV2</text>
<text class="t r" x="1337.4" y="2361.23">1.44</text>
<text class="t l" x="63.6" y="2393.44">1.01</text>
<text class="t m o" x="717.1" y="2395.9">CESM2-FV2</text>
<text class="t r" x="1337.4" y="2395.75">1.62</text>
<rect x="1492.8" y="334.2" width="55.8" height="1015" fill="url(#jet)"/>
<text class="cb" x="1574.4" y="1337.69">0.25</text>
<text class="cb" x="1574.4" y="1197.96">0.50</text>
<text class="cb" x="1574.4" y="1058.23">0.75</text>
<text class="cb" x="1574.4" y="918.5">1.00</text>
<text class="cb" x="1574.4" y="778.77">1.25</text>
<text class="cb" x="1574.4" y="639.04">1.50</text>
<text class="cb" x="1574.4" y="499.31">1.75</text>
<text class="cb" x="1574.4" y="359.58">2.00</text>
<path class="ln" d="M1548.6 1323.49H1561.7M1548.6 1183.76H1561.7M1548.6 1044.03H1561.7M1548.6 904.3H1561.7M1548.6 764.57H1561.7M1548.6 624.84H1561.7M1548.6 485.11H1561.7M1548.6 345.38H1561.7"/>
<rect class="sp" x="1492.8" y="334.2" width="55.8" height="1015"/>
</svg></body></html>
